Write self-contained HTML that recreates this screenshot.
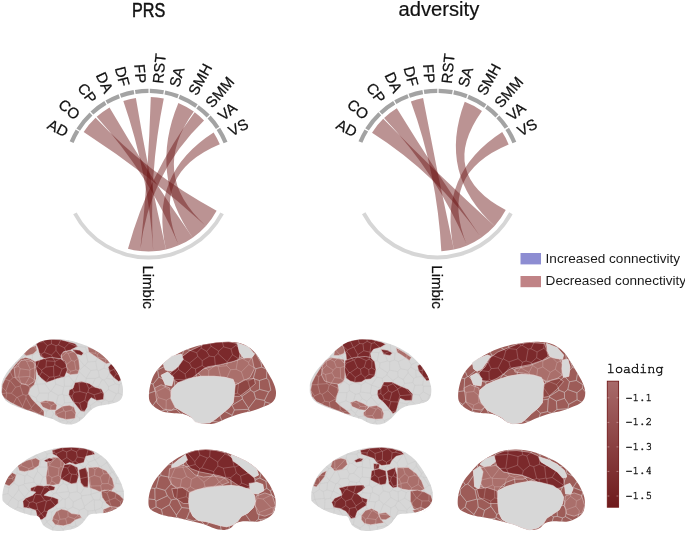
<!DOCTYPE html>
<html><head><meta charset="utf-8"><style>
html,body{margin:0;padding:0;background:#fff;}
body{width:685px;height:534px;overflow:hidden;}
svg{display:block;}
.lab{font-family:"Liberation Sans",Arial,sans-serif;font-size:15px;fill:#111;stroke:#111;stroke-width:0.25px;}
.title{font-family:"Liberation Sans",Arial,sans-serif;font-size:19.5px;fill:#111;stroke:#111;stroke-width:0.5px;}
.leg{font-family:"Liberation Sans",Arial,sans-serif;font-size:13.6px;fill:#1a1a1a;}
.loading{font-family:"TeX Gyre Cursor","FreeMono","Liberation Mono",monospace;font-size:13.5px;fill:#111;stroke:#111;stroke-width:0.45px;}
.tick{font-family:"TeX Gyre Cursor","FreeMono","Liberation Mono",monospace;font-size:11px;fill:#111;stroke:#111;stroke-width:0.35px;}
</style></head><body>
<svg width="685" height="534" viewBox="0 0 685 534">
<rect width="685" height="534" fill="#fff"/>
<text x="0" y="0" text-anchor="middle" class="title" transform="translate(148.6,16.6) scale(0.83,1)">PRS</text><text x="0" y="0" text-anchor="middle" class="title" style="stroke-width:0.2px" transform="translate(438.9,16.2) scale(1.035,1)">adversity</text>
<g fill="rgb(105,15,15)" fill-opacity="0.45"><path d="M83.67,132.1A77.3,77.3 0 0 1 95.58,117.85Q148.5,174.2 216.62,210.73A77.3,77.3 0 0 1 205.95,225.92Q148.5,174.2 83.67,132.1Z"/><path d="M178.39,102.91A77.3,77.3 0 0 1 193.83,111.58Q148.5,174.2 205.95,225.92A77.3,77.3 0 0 1 192.67,237.64Q148.5,174.2 178.39,102.91Z"/><path d="M96.68,116.85A77.3,77.3 0 0 1 109.5,107.46Q148.5,174.2 192.67,237.64A77.3,77.3 0 0 1 178.77,245.33Q148.5,174.2 96.68,116.85Z"/><path d="M213.59,132.5A77.3,77.3 0 0 1 219.81,144.37Q148.5,174.2 178.77,245.33A77.3,77.3 0 0 1 166.02,249.49Q148.5,174.2 213.59,132.5Z"/><path d="M123.33,101.11A77.3,77.3 0 0 1 135.87,97.94Q148.5,174.2 166.02,249.49A77.3,77.3 0 0 1 153.22,251.36Q148.5,174.2 123.33,101.11Z"/><path d="M150.79,96.93A77.3,77.3 0 0 1 163.78,98.43Q148.5,174.2 153.22,251.36A77.3,77.3 0 0 1 140.15,251.05Q148.5,174.2 150.79,96.93Z"/><path d="M194.7,112.22A77.3,77.3 0 0 1 204.01,120.41Q148.5,174.2 140.15,251.05A77.3,77.3 0 0 1 127.97,248.72Q148.5,174.2 194.7,112.22Z"/></g><g fill="#a3a3a3"><path d="M69.69,141.31A85.4,85.4 0 0 1 75.72,129.52L79.3,131.71A81.2,81.2 0 0 0 73.56,142.93Z"/><path d="M76.43,128.38A85.4,85.4 0 0 1 89.55,112.41L92.45,115.45A81.2,81.2 0 0 0 79.98,130.63Z"/><path d="M90.53,111.49A85.4,85.4 0 0 1 104.32,101.11L106.5,104.71A81.2,81.2 0 0 0 93.38,114.57Z"/><path d="M105.48,100.43A85.4,85.4 0 0 1 118.52,94.23L120,98.17A81.2,81.2 0 0 0 107.59,104.06Z"/><path d="M119.78,93.77A85.4,85.4 0 0 1 133.6,90.11L134.33,94.25A81.2,81.2 0 0 0 121.19,97.73Z"/><path d="M134.92,89.89A85.4,85.4 0 0 1 148.5,88.8L148.5,93A81.2,81.2 0 0 0 135.59,94.03Z"/><path d="M149.84,88.81A85.4,85.4 0 0 1 163.99,90.22L163.23,94.35A81.2,81.2 0 0 0 149.78,93.01Z"/><path d="M165.31,90.47A85.4,85.4 0 0 1 178.83,94.37L177.33,98.29A81.2,81.2 0 0 0 164.48,94.59Z"/><path d="M180.08,94.85A85.4,85.4 0 0 1 197.67,104.37L195.25,107.81A81.2,81.2 0 0 0 178.52,98.75Z"/><path d="M198.76,105.15A85.4,85.4 0 0 1 209.67,114.61L206.66,117.54A81.2,81.2 0 0 0 196.29,108.55Z"/><path d="M210.6,115.58A85.4,85.4 0 0 1 219.42,126.63L215.94,128.97A81.2,81.2 0 0 0 207.55,118.46Z"/><path d="M220.16,127.75A85.4,85.4 0 0 1 227.48,141.73L223.6,143.32A81.2,81.2 0 0 0 216.64,130.03Z"/></g><path fill="#d6d6d6" d="M223.82,214.25A85.3,85.3 0 0 1 73.18,214.25L76.63,212.41A81.4,81.4 0 0 0 220.37,212.41Z"/><g class="lab"><text x="0" y="0" text-anchor="end" dominant-baseline="central" transform="translate(67.31,132.65) rotate(27.1)">AD</text><text x="0" y="0" text-anchor="end" dominant-baseline="central" transform="translate(78.03,116.31) rotate(39.4)">CO</text><text x="0" y="0" text-anchor="end" dominant-baseline="central" transform="translate(93.68,101.32) rotate(53.05)">CP</text><text x="0" y="0" text-anchor="end" dominant-baseline="central" transform="translate(109.38,91.82) rotate(64.6)">DA</text><text x="0" y="0" text-anchor="end" dominant-baseline="central" transform="translate(125.13,86.05) rotate(75.15)">DF</text><text x="0" y="0" text-anchor="end" dominant-baseline="central" transform="translate(141.23,83.29) rotate(85.43)">FP</text><text x="0" y="0" text-anchor="start" dominant-baseline="central" transform="translate(157.52,83.45) rotate(-84.32)">RST</text><text x="0" y="0" text-anchor="start" dominant-baseline="central" transform="translate(173.75,86.57) rotate(-73.92)">SA</text><text x="0" y="0" text-anchor="start" dominant-baseline="central" transform="translate(191.91,93.99) rotate(-61.58)">SMH</text><text x="0" y="0" text-anchor="start" dominant-baseline="central" transform="translate(208.21,105.27) rotate(-49.1)">SMM</text><text x="0" y="0" text-anchor="start" dominant-baseline="central" transform="translate(219.77,117.3) rotate(-38.6)">VA</text><text x="0" y="0" text-anchor="start" dominant-baseline="central" transform="translate(229.28,131.88) rotate(-27.65)">VS</text><text x="0" y="0" text-anchor="start" dominant-baseline="central" transform="translate(148.5,265.4) rotate(90)">Limbic</text></g><g fill="rgb(105,15,15)" fill-opacity="0.45"><path d="M464.75,101.84A77.3,77.3 0 0 1 481.97,111.01Q437.3,174.1 505.74,210.03A77.3,77.3 0 0 1 494.56,226.02Q437.3,174.1 464.75,101.84Z"/><path d="M372.03,132.68A77.3,77.3 0 0 1 383.22,118.87Q437.3,174.1 494.56,226.02A77.3,77.3 0 0 1 481.19,237.73Q437.3,174.1 372.03,132.68Z"/><path d="M384.09,118.03A77.3,77.3 0 0 1 396.8,108.26Q437.3,174.1 481.19,237.73A77.3,77.3 0 0 1 467.13,245.41Q437.3,174.1 384.09,118.03Z"/><path d="M502.2,132.11A77.3,77.3 0 0 1 508.66,144.39Q437.3,174.1 467.13,245.41A77.3,77.3 0 0 1 453.9,249.6Q437.3,174.1 502.2,132.11Z"/><path d="M410.86,101.46A77.3,77.3 0 0 1 423.08,98.12Q437.3,174.1 453.9,249.6A77.3,77.3 0 0 1 441.35,251.29Q437.3,174.1 410.86,101.46Z"/></g><g fill="#a3a3a3"><path d="M358.49,141.21A85.4,85.4 0 0 1 364.52,129.42L368.1,131.61A81.2,81.2 0 0 0 362.36,142.83Z"/><path d="M365.23,128.28A85.4,85.4 0 0 1 378.35,112.31L381.25,115.35A81.2,81.2 0 0 0 368.78,130.53Z"/><path d="M379.33,111.39A85.4,85.4 0 0 1 393.12,101.01L395.3,104.61A81.2,81.2 0 0 0 382.18,114.47Z"/><path d="M394.28,100.33A85.4,85.4 0 0 1 407.32,94.13L408.8,98.07A81.2,81.2 0 0 0 396.39,103.96Z"/><path d="M408.58,93.67A85.4,85.4 0 0 1 422.4,90.01L423.13,94.15A81.2,81.2 0 0 0 409.99,97.63Z"/><path d="M423.72,89.79A85.4,85.4 0 0 1 437.3,88.7L437.3,92.9A81.2,81.2 0 0 0 424.39,93.93Z"/><path d="M438.64,88.71A85.4,85.4 0 0 1 452.79,90.12L452.03,94.25A81.2,81.2 0 0 0 438.58,92.91Z"/><path d="M454.11,90.37A85.4,85.4 0 0 1 467.63,94.27L466.13,98.19A81.2,81.2 0 0 0 453.28,94.49Z"/><path d="M468.88,94.75A85.4,85.4 0 0 1 486.47,104.27L484.05,107.71A81.2,81.2 0 0 0 467.32,98.65Z"/><path d="M487.56,105.05A85.4,85.4 0 0 1 498.47,114.51L495.46,117.44A81.2,81.2 0 0 0 485.09,108.45Z"/><path d="M499.4,115.48A85.4,85.4 0 0 1 508.22,126.53L504.74,128.87A81.2,81.2 0 0 0 496.35,118.36Z"/><path d="M508.96,127.65A85.4,85.4 0 0 1 516.28,141.63L512.4,143.22A81.2,81.2 0 0 0 505.44,129.93Z"/></g><path fill="#d6d6d6" d="M512.62,214.15A85.3,85.3 0 0 1 361.98,214.15L365.43,212.31A81.4,81.4 0 0 0 509.17,212.31Z"/><g class="lab"><text x="0" y="0" text-anchor="end" dominant-baseline="central" transform="translate(356.11,132.55) rotate(27.1)">AD</text><text x="0" y="0" text-anchor="end" dominant-baseline="central" transform="translate(366.83,116.21) rotate(39.4)">CO</text><text x="0" y="0" text-anchor="end" dominant-baseline="central" transform="translate(382.48,101.22) rotate(53.05)">CP</text><text x="0" y="0" text-anchor="end" dominant-baseline="central" transform="translate(398.18,91.72) rotate(64.6)">DA</text><text x="0" y="0" text-anchor="end" dominant-baseline="central" transform="translate(413.93,85.95) rotate(75.15)">DF</text><text x="0" y="0" text-anchor="end" dominant-baseline="central" transform="translate(430.03,83.19) rotate(85.43)">FP</text><text x="0" y="0" text-anchor="start" dominant-baseline="central" transform="translate(446.32,83.35) rotate(-84.32)">RST</text><text x="0" y="0" text-anchor="start" dominant-baseline="central" transform="translate(462.55,86.47) rotate(-73.92)">SA</text><text x="0" y="0" text-anchor="start" dominant-baseline="central" transform="translate(480.71,93.89) rotate(-61.58)">SMH</text><text x="0" y="0" text-anchor="start" dominant-baseline="central" transform="translate(497.01,105.17) rotate(-49.1)">SMM</text><text x="0" y="0" text-anchor="start" dominant-baseline="central" transform="translate(508.57,117.2) rotate(-38.6)">VA</text><text x="0" y="0" text-anchor="start" dominant-baseline="central" transform="translate(518.08,131.78) rotate(-27.65)">VS</text><text x="0" y="0" text-anchor="start" dominant-baseline="central" transform="translate(437.3,265.3) rotate(90)">Limbic</text></g>
<rect x="520.5" y="253" width="20.5" height="11.4" fill="#8d8dd2"/><rect x="520.5" y="276" width="20.5" height="11.2" fill="#c08386"/><text x="545.6" y="263.1" class="leg">Increased connectivity</text><text x="545.6" y="285.2" class="leg">Decreased connectivity</text>
<g transform="translate(0,335) scale(0.18978)"><clipPath id="c0"><path d="M8,282C8,272 7.2,261 10,250C12.8,239 18.5,227.5 25,216C31.5,204.5 40,192.7 49,181C58,169.3 69.2,156.7 79,146C88.8,135.3 98.2,126.8 108,117C117.8,107.2 128,96.2 138,87C148,77.8 158,69.5 168,62C178,54.5 186.5,47.7 198,42C209.5,36.3 223.8,31.3 237,28C250.2,24.7 263.2,23 277,22C290.8,21 302.8,20.3 320,22C337.2,23.7 361.7,27.7 380,32C398.3,36.3 413.3,42 430,48C446.7,54 464.2,60.2 480,68C495.8,75.8 510.8,84.7 525,95C539.2,105.3 552.5,117.5 565,130C577.5,142.5 589.5,155.8 600,170C610.5,184.2 620.5,199.2 628,215C635.5,230.8 641.7,250.8 645,265C648.3,279.2 648.8,288.3 648,300C647.2,311.7 645.5,325.8 640,335C634.5,344.2 625.8,350 615,355C604.2,360 589.2,362.2 575,365C560.8,367.8 543.3,368.7 530,372C516.7,375.3 505,379.5 495,385C485,390.5 477.5,398.3 470,405C462.5,411.7 456.7,418.3 450,425C443.3,431.7 438.3,438.3 430,445C421.7,451.7 410.8,460.5 400,465C389.2,469.5 376.7,471.5 365,472C353.3,472.5 340.8,470.8 330,468C319.2,465.2 308.8,459.2 300,455C291.2,450.8 289,447.5 277,443C265,438.5 244.5,433.8 228,428C211.5,422.2 196.2,414.5 178,408C159.8,401.5 137.2,395.5 119,389C100.8,382.5 83.8,376.3 69,369C54.2,361.7 39.8,354.8 30,345C20.2,335.2 13.7,320.5 10,310C6.3,299.5 8,292 8,282Z"/></clipPath><path d="M8,282C8,272 7.2,261 10,250C12.8,239 18.5,227.5 25,216C31.5,204.5 40,192.7 49,181C58,169.3 69.2,156.7 79,146C88.8,135.3 98.2,126.8 108,117C117.8,107.2 128,96.2 138,87C148,77.8 158,69.5 168,62C178,54.5 186.5,47.7 198,42C209.5,36.3 223.8,31.3 237,28C250.2,24.7 263.2,23 277,22C290.8,21 302.8,20.3 320,22C337.2,23.7 361.7,27.7 380,32C398.3,36.3 413.3,42 430,48C446.7,54 464.2,60.2 480,68C495.8,75.8 510.8,84.7 525,95C539.2,105.3 552.5,117.5 565,130C577.5,142.5 589.5,155.8 600,170C610.5,184.2 620.5,199.2 628,215C635.5,230.8 641.7,250.8 645,265C648.3,279.2 648.8,288.3 648,300C647.2,311.7 645.5,325.8 640,335C634.5,344.2 625.8,350 615,355C604.2,360 589.2,362.2 575,365C560.8,367.8 543.3,368.7 530,372C516.7,375.3 505,379.5 495,385C485,390.5 477.5,398.3 470,405C462.5,411.7 456.7,418.3 450,425C443.3,431.7 438.3,438.3 430,445C421.7,451.7 410.8,460.5 400,465C389.2,469.5 376.7,471.5 365,472C353.3,472.5 340.8,470.8 330,468C319.2,465.2 308.8,459.2 300,455C291.2,450.8 289,447.5 277,443C265,438.5 244.5,433.8 228,428C211.5,422.2 196.2,414.5 178,408C159.8,401.5 137.2,395.5 119,389C100.8,382.5 83.8,376.3 69,369C54.2,361.7 39.8,354.8 30,345C20.2,335.2 13.7,320.5 10,310C6.3,299.5 8,292 8,282Z" fill="#d7d7d7"/><path clip-path="url(#c0)" d="M674 466L631 437M659 394L631 437M632 489L674 466M646 83L705 132M646 83L628 102M628 102L623 115M623 115L660 142M646 83L647 68M647 68L694 36M647 68L607 43M662 14L617 21M607 43L617 21M660 142L642 165M642 165L666 202M666 202L644 221M644 221L644 250M619 378L659 394M619 378L616 371M616 371L653 333M653 333L648 317M7 178L-194 161M7 178L7 126M7 126L-194 161M632 489L603 482M631 437L624 438M624 438L603 482M623 115L596 132M642 165L606 170M596 132L606 170M613 204L601 182M613 204L595 233M595 233L561 229M561 229L585 187M585 187L601 182M613 204L644 221M601 182L606 170M662 14L631 -91M617 21L606 -15M606 -15L631 -91M614 310L623 306M614 310L571 288M623 306L628 262M571 288L572 272M572 272L608 257M628 262L608 257M616 371L592 349M592 349L614 310M648 317L623 306M644 250L628 262M595 233L608 257M548 237L561 229M548 237L572 272M121 314L106 269M121 314L137 318M106 269L113 259M113 259L133 259M137 318L149 313M149 313L158 276M158 276L133 259M7 126L17 101M-16 82L17 101M237 257L266 297M237 257L260 222M269 296L266 297M269 296L294 259M286 221L294 259M286 221L284 220M284 220L260 222M592 349L574 350M574 350L554 342M571 288L548 310M554 342L548 310M307 318L269 296M307 318L328 312M294 259L336 274M328 312L336 274M619 378L599 408M574 350L571 388M571 388L599 408M624 438L598 417M599 408L598 417M-6 394L-27 372M-6 394L17 388M17 388L24 349M24 349L-12 349M-27 372L-12 349M-14 428L-6 394M-18 315L-61 292M-18 315L-12 349M-14 428L25 447M43 400L17 388M43 400L40 427M25 447L40 427M31 294L1 267M31 294L50 241M1 267L6 230M50 241L9 227M9 227L6 230M-18 315L35 305M35 305L31 294M9 180L9 227M9 180L7 178M603 482L591 487M598 417L566 437M566 437L587 484M591 487L587 484M591 487L2563 158210M197 259L207 306M197 259L195 258M149 313L191 330M195 258L158 276M191 330L207 306M197 259L237 257M266 297L256 306M207 306L256 306M121 314L92 328M137 318L137 332M92 328L119 377M137 332L119 377M607 43L592 50M606 -15L574 -2M574 -2L569 44M592 50L569 44M628 102L593 74M592 50L593 74M195 258L191 243M133 259L157 219M157 219L191 243M260 222L221 194M191 243L221 194M286 221L313 215M336 274L340 270M340 270L338 225M313 215L338 225M392 138L400 184M392 138L413 124M417 189L444 161M417 189L400 184M413 124L444 161M454 228L479 187M454 228L419 195M419 195L417 189M479 187L447 161M447 161L444 161M512 183L479 187M512 183L504 139M447 161L463 142M504 139L463 142M507 47L505 97M507 47L468 32M450 65L468 32M450 65L458 91M505 97L458 91M415 115L454 97M415 115L413 124M463 142L454 97M-16 82L-13 48M-13 48L11 39M-5 -7L28 -6M11 39L28 -6M62 24L36 -9M62 24L101 -2M36 -9L83 -124M101 -2L83 -124M36 -9L28 -6M301 -11L379 -724M301 -11L271 -2M255 -13L271 -2M255 -13L1222 -46122M348 2L329 6M329 6L301 -11M203 -14L159 -93M203 -14L226 -5M226 -5L255 -13M495 315L534 303M495 315L508 349M554 342L536 355M548 310L534 303M508 349L536 355M495 315L463 302M463 302L456 307M456 307L447 344M447 344L475 372M508 349L475 372M447 344L420 358M420 358L429 395M429 395L447 400M447 400L477 387M475 372L477 387M416 252L421 298M416 252L395 247M395 247L389 248M389 248L376 270M376 270L390 302M421 298L390 302M463 302L468 282M456 307L421 298M451 245L468 282M451 245L416 252M454 228L455 229M419 195L395 247M455 229L451 245M372 191L363 215M372 191L400 184M363 215L389 248M340 270L376 270M363 215L338 225M328 312L336 317M390 302L380 322M336 317L380 322M88 328L67 368M88 328L60 307M67 368L30 344M30 344L35 306M35 306L60 307M94 397L120 394M94 397L70 386M70 386L67 368M92 328L88 328M119 377L120 394M82 275L106 269M82 275L60 307M43 400L70 386M24 349L30 344M35 305L35 306M53 240L82 275M53 240L50 241M28 460L63 479M28 460L-5 499M63 479L22 562M-5 499L22 562M25 447L28 460M94 397L81 439M40 427L81 440M81 439L81 440M63 479L73 477M81 440L73 477M191 330L195 348M252 355L256 306M252 355L211 356M211 356L195 348M137 332L166 382M195 348L166 382M307 318L296 360M252 355L269 372M269 372L296 360M530 13L549 -14M530 13L487 -18M549 -14L522 -156M487 -18L522 -156M533 35L555 46M533 35L530 13M574 -2L549 -14M569 44L555 46M507 47L533 35M462 10L468 32M462 10L487 -18M439 3L462 10M575 122L559 128M575 122L575 108M575 108L549 75M559 128L516 118M549 75L511 103M516 118L511 103M596 132L575 122M548 175L585 187M548 175L559 128M593 74L575 108M555 46L549 75M518 189L548 175M518 189L512 183M504 139L516 118M505 97L511 103M458 91L454 97M356 8L364 43M356 8L400 6M364 43L402 59M400 6L410 11M410 11L402 59M402 59L402 59M348 2L356 8M439 3L410 11M450 65L402 59M393 85L402 59M393 85L415 115M101 -2L123 19M123 19L143 10M203 -14L176 31M143 10L176 31M226 -5L228 35M228 35L179 43M176 31L179 43M9 180L35 176M53 240L68 225M68 225L48 181M48 181L35 176M62 24L65 39M11 39L38 55M65 39L38 55M17 101L22 100M38 55L22 100M548 403L555 433M548 403L530 388M530 388L492 406M555 433L513 453M513 453L492 432M492 406L492 432M571 388L548 403M566 437L555 433M536 355L530 388M477 387L492 406M519 270L482 275M519 270L538 235M482 275L502 229M538 235L524 221M524 221L502 229M534 303L519 270M468 282L482 275M548 237L538 235M455 229L502 229M518 189L524 221M392 356L378 396M392 356L390 354M390 354L340 358M378 396L345 404M345 404L337 399M337 399L327 373M340 358L327 373M420 358L392 356M404 424L378 396M404 424L429 395M380 322L390 354M336 317L340 358M296 360L327 373M587 484L543 492M543 492L445 826M513 453L514 463M543 492L514 463M419 437L419 475M419 437L445 438M445 438L458 444M458 444L452 488M419 475L452 488M405 428L371 461M405 428L419 437M387 493L371 461M387 493L419 475M404 424L405 428M447 400L445 438M492 432L458 444M110 476L78 480M110 476L142 503M78 480L119 582M142 503L119 582M81 439L121 448M121 448L110 476M73 477L78 480M281 475L249 486M281 475L291 477M345 447L317 454M345 447L357 457M357 457L336 492M336 492L303 471M317 454L303 471M296 417L337 399M296 417L317 454M345 404L345 447M371 461L357 457M387 493L373 653M291 477L303 471M142 503L165 483M165 483L182 487M249 486L224 461M182 487L224 461M138 402L162 391M138 402L140 433M162 391L202 416M140 433L159 454M159 454L204 430M202 416L204 430M120 394L138 402M166 382L162 391M121 448L140 433M211 356L219 401M219 401L202 416M165 483L159 454M224 455L224 461M224 455L204 430M274 433L238 442M274 433L283 414M238 442L247 400M283 414L267 390M247 400L267 390M281 475L274 433M224 455L238 442M296 417L283 414M219 401L247 400M269 372L267 390M157 218L158 185M157 218L99 222M158 185L106 178M106 178L98 221M98 221L99 222M113 259L99 222M157 219L157 218M68 225L98 221M48 181L98 165M98 165L106 178M195 167L160 182M195 167L170 138M160 182L140 138M170 138L140 138M118 119L99 154M118 119L140 138M98 165L99 154M158 185L160 182M329 6L308 52M364 43L340 68M340 68L308 52M48 144L70 140M48 144L30 102M70 140L62 100M30 102L62 100M35 176L48 144M99 154L70 140M22 100L30 102M453 490L510 468M453 490L459 627M514 463L510 468M452 488L453 490M393 85L359 97M340 68L349 94M359 97L349 94M392 138L376 135M359 97L376 135M295 56L295 81M295 56L271 47M295 81L271 106M271 47L250 56M250 56L233 91M233 91L271 106M308 52L295 56M349 94L323 117M323 117L295 81M271 -2L271 47M228 35L250 56M179 43L177 53M217 101L233 91M217 101L197 92M177 53L197 92M376 135L350 156M323 117L320 124M320 124L350 156M372 191L350 169M313 215L327 179M327 179L350 169M350 169L350 156M195 167L196 167M170 138L171 106M217 101L218 105M171 106L197 92M218 105L196 167M221 194L219 185M196 167L219 185M118 118L81 92M118 118L129 108M129 108L137 66M81 92L84 53M137 66L112 44M112 44L84 53M118 119L118 118M62 100L81 92M171 106L129 108M177 53L137 66M65 39L84 53M123 19L112 44M242 169L245 136M242 169L282 165M245 136L289 139M282 165L288 156M288 156L290 139M289 139L290 139M218 105L245 136M219 185L242 169M284 220L282 165M271 106L289 139M327 179L288 156M320 124L290 139" fill="none" stroke="#c8c8c8" stroke-width="2.90" stroke-opacity="0.8"/><g clip-path="url(#c0)" stroke="#e6d6d6" stroke-width="2.63" stroke-linejoin="round"><path d="M8,300 12,262 28,228 55,190 85,150 110,125 135,118 160,125 185,140 192,180 190,230 180,262 160,280 150,310 170,340 200,370 232,400 232,428 185,410 140,395 95,375 55,355 25,335 10,315Z" fill="#9d5c58"/><path d="M125,100 150,70 190,55 195,80 175,100 140,110Z" fill="#aa6f6b"/><path d="M75,175 110,135 150,128 180,145 185,200 180,245 150,265 110,255 80,225Z" fill="#aa6f6b"/><path d="M320,95 370,80 400,95 415,130 420,175 410,205 370,210 345,195 340,150 325,120Z" fill="#aa6f6b"/><path d="M210,355 240,345 280,350 300,370 295,395 260,395 225,380Z" fill="#aa6f6b"/><path d="M290,400 330,375 365,370 390,380 400,410 395,440 350,445 310,435 290,420Z" fill="#aa6f6b"/><path d="M462,62 500,76 535,100 565,125 578,148 560,152 530,132 495,108 468,90Z" fill="#aa6f6b"/><path d="M190,48 215,30 260,22 320,25 360,35 395,45 410,60 390,70 370,80 335,88 322,105 325,128 280,122 235,126 212,110 205,90 200,70Z" fill="#7b292b"/><path d="M380,75 420,80 440,95 430,108 400,100Z" fill="#7b292b"/><path d="M185,140 230,125 265,118 320,125 345,140 355,185 340,220 300,230 275,240 245,250 220,230 200,210 190,180Z" fill="#7b292b"/><path d="M570,170 585,152 605,165 625,200 638,238 625,245 600,225 578,200Z" fill="#7b292b"/><path d="M365,290 385,280 395,250 430,245 470,255 500,275 535,285 548,310 545,340 510,345 480,330 465,350 460,380 445,405 425,400 405,375 380,345 362,315Z" fill="#7b292b"/></g><clipPath id="c0k"><path d="M8,300 12,262 28,228 55,190 85,150 110,125 135,118 160,125 185,140 192,180 190,230 180,262 160,280 150,310 170,340 200,370 232,400 232,428 185,410 140,395 95,375 55,355 25,335 10,315Z"/><path d="M125,100 150,70 190,55 195,80 175,100 140,110Z"/><path d="M75,175 110,135 150,128 180,145 185,200 180,245 150,265 110,255 80,225Z"/><path d="M320,95 370,80 400,95 415,130 420,175 410,205 370,210 345,195 340,150 325,120Z"/><path d="M210,355 240,345 280,350 300,370 295,395 260,395 225,380Z"/><path d="M290,400 330,375 365,370 390,380 400,410 395,440 350,445 310,435 290,420Z"/><path d="M462,62 500,76 535,100 565,125 578,148 560,152 530,132 495,108 468,90Z"/><path d="M190,48 215,30 260,22 320,25 360,35 395,45 410,60 390,70 370,80 335,88 322,105 325,128 280,122 235,126 212,110 205,90 200,70Z"/><path d="M380,75 420,80 440,95 430,108 400,100Z"/><path d="M185,140 230,125 265,118 320,125 345,140 355,185 340,220 300,230 275,240 245,250 220,230 200,210 190,180Z"/><path d="M570,170 585,152 605,165 625,200 638,238 625,245 600,225 578,200Z"/><path d="M365,290 385,280 395,250 430,245 470,255 500,275 535,285 548,310 545,340 510,345 480,330 465,350 460,380 445,405 425,400 405,375 380,345 362,315Z"/></clipPath><g clip-path="url(#c0k)"><path d="M674 466L631 437M659 394L631 437M632 489L674 466M646 83L705 132M646 83L628 102M628 102L623 115M623 115L660 142M646 83L647 68M647 68L694 36M647 68L607 43M662 14L617 21M607 43L617 21M660 142L642 165M642 165L666 202M666 202L644 221M644 221L644 250M619 378L659 394M619 378L616 371M616 371L653 333M653 333L648 317M7 178L-194 161M7 178L7 126M7 126L-194 161M632 489L603 482M631 437L624 438M624 438L603 482M623 115L596 132M642 165L606 170M596 132L606 170M613 204L601 182M613 204L595 233M595 233L561 229M561 229L585 187M585 187L601 182M613 204L644 221M601 182L606 170M662 14L631 -91M617 21L606 -15M606 -15L631 -91M614 310L623 306M614 310L571 288M623 306L628 262M571 288L572 272M572 272L608 257M628 262L608 257M616 371L592 349M592 349L614 310M648 317L623 306M644 250L628 262M595 233L608 257M548 237L561 229M548 237L572 272M121 314L106 269M121 314L137 318M106 269L113 259M113 259L133 259M137 318L149 313M149 313L158 276M158 276L133 259M7 126L17 101M-16 82L17 101M237 257L266 297M237 257L260 222M269 296L266 297M269 296L294 259M286 221L294 259M286 221L284 220M284 220L260 222M592 349L574 350M574 350L554 342M571 288L548 310M554 342L548 310M307 318L269 296M307 318L328 312M294 259L336 274M328 312L336 274M619 378L599 408M574 350L571 388M571 388L599 408M624 438L598 417M599 408L598 417M-6 394L-27 372M-6 394L17 388M17 388L24 349M24 349L-12 349M-27 372L-12 349M-14 428L-6 394M-18 315L-61 292M-18 315L-12 349M-14 428L25 447M43 400L17 388M43 400L40 427M25 447L40 427M31 294L1 267M31 294L50 241M1 267L6 230M50 241L9 227M9 227L6 230M-18 315L35 305M35 305L31 294M9 180L9 227M9 180L7 178M603 482L591 487M598 417L566 437M566 437L587 484M591 487L587 484M591 487L2563 158210M197 259L207 306M197 259L195 258M149 313L191 330M195 258L158 276M191 330L207 306M197 259L237 257M266 297L256 306M207 306L256 306M121 314L92 328M137 318L137 332M92 328L119 377M137 332L119 377M607 43L592 50M606 -15L574 -2M574 -2L569 44M592 50L569 44M628 102L593 74M592 50L593 74M195 258L191 243M133 259L157 219M157 219L191 243M260 222L221 194M191 243L221 194M286 221L313 215M336 274L340 270M340 270L338 225M313 215L338 225M392 138L400 184M392 138L413 124M417 189L444 161M417 189L400 184M413 124L444 161M454 228L479 187M454 228L419 195M419 195L417 189M479 187L447 161M447 161L444 161M512 183L479 187M512 183L504 139M447 161L463 142M504 139L463 142M507 47L505 97M507 47L468 32M450 65L468 32M450 65L458 91M505 97L458 91M415 115L454 97M415 115L413 124M463 142L454 97M-16 82L-13 48M-13 48L11 39M-5 -7L28 -6M11 39L28 -6M62 24L36 -9M62 24L101 -2M36 -9L83 -124M101 -2L83 -124M36 -9L28 -6M301 -11L379 -724M301 -11L271 -2M255 -13L271 -2M255 -13L1222 -46122M348 2L329 6M329 6L301 -11M203 -14L159 -93M203 -14L226 -5M226 -5L255 -13M495 315L534 303M495 315L508 349M554 342L536 355M548 310L534 303M508 349L536 355M495 315L463 302M463 302L456 307M456 307L447 344M447 344L475 372M508 349L475 372M447 344L420 358M420 358L429 395M429 395L447 400M447 400L477 387M475 372L477 387M416 252L421 298M416 252L395 247M395 247L389 248M389 248L376 270M376 270L390 302M421 298L390 302M463 302L468 282M456 307L421 298M451 245L468 282M451 245L416 252M454 228L455 229M419 195L395 247M455 229L451 245M372 191L363 215M372 191L400 184M363 215L389 248M340 270L376 270M363 215L338 225M328 312L336 317M390 302L380 322M336 317L380 322M88 328L67 368M88 328L60 307M67 368L30 344M30 344L35 306M35 306L60 307M94 397L120 394M94 397L70 386M70 386L67 368M92 328L88 328M119 377L120 394M82 275L106 269M82 275L60 307M43 400L70 386M24 349L30 344M35 305L35 306M53 240L82 275M53 240L50 241M28 460L63 479M28 460L-5 499M63 479L22 562M-5 499L22 562M25 447L28 460M94 397L81 439M40 427L81 440M81 439L81 440M63 479L73 477M81 440L73 477M191 330L195 348M252 355L256 306M252 355L211 356M211 356L195 348M137 332L166 382M195 348L166 382M307 318L296 360M252 355L269 372M269 372L296 360M530 13L549 -14M530 13L487 -18M549 -14L522 -156M487 -18L522 -156M533 35L555 46M533 35L530 13M574 -2L549 -14M569 44L555 46M507 47L533 35M462 10L468 32M462 10L487 -18M439 3L462 10M575 122L559 128M575 122L575 108M575 108L549 75M559 128L516 118M549 75L511 103M516 118L511 103M596 132L575 122M548 175L585 187M548 175L559 128M593 74L575 108M555 46L549 75M518 189L548 175M518 189L512 183M504 139L516 118M505 97L511 103M458 91L454 97M356 8L364 43M356 8L400 6M364 43L402 59M400 6L410 11M410 11L402 59M402 59L402 59M348 2L356 8M439 3L410 11M450 65L402 59M393 85L402 59M393 85L415 115M101 -2L123 19M123 19L143 10M203 -14L176 31M143 10L176 31M226 -5L228 35M228 35L179 43M176 31L179 43M9 180L35 176M53 240L68 225M68 225L48 181M48 181L35 176M62 24L65 39M11 39L38 55M65 39L38 55M17 101L22 100M38 55L22 100M548 403L555 433M548 403L530 388M530 388L492 406M555 433L513 453M513 453L492 432M492 406L492 432M571 388L548 403M566 437L555 433M536 355L530 388M477 387L492 406M519 270L482 275M519 270L538 235M482 275L502 229M538 235L524 221M524 221L502 229M534 303L519 270M468 282L482 275M548 237L538 235M455 229L502 229M518 189L524 221M392 356L378 396M392 356L390 354M390 354L340 358M378 396L345 404M345 404L337 399M337 399L327 373M340 358L327 373M420 358L392 356M404 424L378 396M404 424L429 395M380 322L390 354M336 317L340 358M296 360L327 373M587 484L543 492M543 492L445 826M513 453L514 463M543 492L514 463M419 437L419 475M419 437L445 438M445 438L458 444M458 444L452 488M419 475L452 488M405 428L371 461M405 428L419 437M387 493L371 461M387 493L419 475M404 424L405 428M447 400L445 438M492 432L458 444M110 476L78 480M110 476L142 503M78 480L119 582M142 503L119 582M81 439L121 448M121 448L110 476M73 477L78 480M281 475L249 486M281 475L291 477M345 447L317 454M345 447L357 457M357 457L336 492M336 492L303 471M317 454L303 471M296 417L337 399M296 417L317 454M345 404L345 447M371 461L357 457M387 493L373 653M291 477L303 471M142 503L165 483M165 483L182 487M249 486L224 461M182 487L224 461M138 402L162 391M138 402L140 433M162 391L202 416M140 433L159 454M159 454L204 430M202 416L204 430M120 394L138 402M166 382L162 391M121 448L140 433M211 356L219 401M219 401L202 416M165 483L159 454M224 455L224 461M224 455L204 430M274 433L238 442M274 433L283 414M238 442L247 400M283 414L267 390M247 400L267 390M281 475L274 433M224 455L238 442M296 417L283 414M219 401L247 400M269 372L267 390M157 218L158 185M157 218L99 222M158 185L106 178M106 178L98 221M98 221L99 222M113 259L99 222M157 219L157 218M68 225L98 221M48 181L98 165M98 165L106 178M195 167L160 182M195 167L170 138M160 182L140 138M170 138L140 138M118 119L99 154M118 119L140 138M98 165L99 154M158 185L160 182M329 6L308 52M364 43L340 68M340 68L308 52M48 144L70 140M48 144L30 102M70 140L62 100M30 102L62 100M35 176L48 144M99 154L70 140M22 100L30 102M453 490L510 468M453 490L459 627M514 463L510 468M452 488L453 490M393 85L359 97M340 68L349 94M359 97L349 94M392 138L376 135M359 97L376 135M295 56L295 81M295 56L271 47M295 81L271 106M271 47L250 56M250 56L233 91M233 91L271 106M308 52L295 56M349 94L323 117M323 117L295 81M271 -2L271 47M228 35L250 56M179 43L177 53M217 101L233 91M217 101L197 92M177 53L197 92M376 135L350 156M323 117L320 124M320 124L350 156M372 191L350 169M313 215L327 179M327 179L350 169M350 169L350 156M195 167L196 167M170 138L171 106M217 101L218 105M171 106L197 92M218 105L196 167M221 194L219 185M196 167L219 185M118 118L81 92M118 118L129 108M129 108L137 66M81 92L84 53M137 66L112 44M112 44L84 53M118 119L118 118M62 100L81 92M171 106L129 108M177 53L137 66M65 39L84 53M123 19L112 44M242 169L245 136M242 169L282 165M245 136L289 139M282 165L288 156M288 156L290 139M289 139L290 139M218 105L245 136M219 185L242 169M284 220L282 165M271 106L289 139M327 179L288 156M320 124L290 139" fill="none" stroke="#eedede" stroke-width="2.90" stroke-opacity="0.45"/></g></g><g transform="translate(140,335) scale(0.21168)"><clipPath id="c1"><path d="M42,290C41.7,276.7 44.2,256.7 48,240C51.8,223.3 57.2,205 65,190C72.8,175 83.3,162.5 95,150C106.7,137.5 120,125.8 135,115C150,104.2 167.5,93.8 185,85C202.5,76.2 220.8,68.7 240,62C259.2,55.3 280,49.5 300,45C320,40.5 340,37.2 360,35C380,32.8 401.7,31.5 420,32C438.3,32.5 455,34.2 470,38C485,41.8 497.5,47.2 510,55C522.5,62.8 534.2,72.5 545,85C555.8,97.5 565,114.2 575,130C585,145.8 595.8,164.2 605,180C614.2,195.8 623.8,210.8 630,225C636.2,239.2 640.7,252.5 642,265C643.3,277.5 642.5,290 638,300C633.5,310 624.7,318.3 615,325C605.3,331.7 592.5,335 580,340C567.5,345 553.3,350.8 540,355C526.7,359.2 513.3,361.7 500,365C486.7,368.3 473.3,370.8 460,375C446.7,379.2 432.5,385 420,390C407.5,395 396.7,400.3 385,405C373.3,409.7 362.5,415.5 350,418C337.5,420.5 322.5,421 310,420C297.5,419 285,416.2 275,412C265,407.8 258.3,400.3 250,395C241.7,389.7 234.2,383.8 225,380C215.8,376.2 207.5,374 195,372C182.5,370 164.2,369.7 150,368C135.8,366.3 122.5,365.8 110,362C97.5,358.2 85,352 75,345C65,338 55.5,329.2 50,320C44.5,310.8 42.3,303.3 42,290Z"/></clipPath><path d="M42,290C41.7,276.7 44.2,256.7 48,240C51.8,223.3 57.2,205 65,190C72.8,175 83.3,162.5 95,150C106.7,137.5 120,125.8 135,115C150,104.2 167.5,93.8 185,85C202.5,76.2 220.8,68.7 240,62C259.2,55.3 280,49.5 300,45C320,40.5 340,37.2 360,35C380,32.8 401.7,31.5 420,32C438.3,32.5 455,34.2 470,38C485,41.8 497.5,47.2 510,55C522.5,62.8 534.2,72.5 545,85C555.8,97.5 565,114.2 575,130C585,145.8 595.8,164.2 605,180C614.2,195.8 623.8,210.8 630,225C636.2,239.2 640.7,252.5 642,265C643.3,277.5 642.5,290 638,300C633.5,310 624.7,318.3 615,325C605.3,331.7 592.5,335 580,340C567.5,345 553.3,350.8 540,355C526.7,359.2 513.3,361.7 500,365C486.7,368.3 473.3,370.8 460,375C446.7,379.2 432.5,385 420,390C407.5,395 396.7,400.3 385,405C373.3,409.7 362.5,415.5 350,418C337.5,420.5 322.5,421 310,420C297.5,419 285,416.2 275,412C265,407.8 258.3,400.3 250,395C241.7,389.7 234.2,383.8 225,380C215.8,376.2 207.5,374 195,372C182.5,370 164.2,369.7 150,368C135.8,366.3 122.5,365.8 110,362C97.5,358.2 85,352 75,345C65,338 55.5,329.2 50,320C44.5,310.8 42.3,303.3 42,290Z" fill="#9d5c58"/><path clip-path="url(#c1)" d="M147 16L125 23M125 23L77 1M24 32L63 28M77 1L63 28M635 34L592 14M220 67L207 73M220 67L242 14M207 73L161 33M242 14L214 -2M214 -2L156 23M161 33L156 23M147 16L156 23M125 23L95 68M133 92L95 68M133 92L161 33M255 9L335 -246M255 9L242 14M81 68L85 70M81 68L27 86M85 70L85 103M85 103L67 126M67 126L27 103M27 86L27 103M63 28L81 68M95 68L85 70M81 164L22 171M81 164L67 126M160 209L167 257M160 209L218 212M167 257L215 253M218 212L215 253M267 204L219 211M267 204L262 160M262 160L244 153M244 153L213 184M219 211L213 184M181 118L182 163M181 118L144 114M144 114L125 131M154 189L114 150M154 189L182 163M114 150L125 131M194 110L234 133M194 110L181 118M234 133L244 153M213 184L182 163M133 92L144 114M194 110L207 73M85 103L125 131M153 201L119 215M153 201L154 189M83 165L89 199M83 165L114 150M119 215L89 199M153 201L160 209M218 212L219 211M83 165L81 164M325 167L356 144M325 167L324 201M324 201L350 224M369 149L356 144M369 149L384 211M384 211L350 224M281 214L324 201M281 214L267 204M294 144L262 160M294 144L325 167M281 214L273 260M273 260L297 275M350 224L348 246M348 246L297 275M56 340L27 323M56 340L59 348M27 323L-51 345M59 348L15 381M21 400L15 381M62 232L72 265M62 232L19 216M72 265L26 281M26 281L-21 249M22 171L19 216M89 199L62 232M27 323L26 281M87 296L77 268M87 296L124 308M77 268L119 247M119 247L155 270M124 308L152 293M155 270L152 293M56 340L87 296M72 265L77 268M119 215L119 247M167 257L155 270M513 346L484 302M513 346L513 351M484 302L435 332M435 332L446 354M513 351L446 354M406 211L428 164M406 211L384 211M369 149L410 145M428 164L410 145M453 49L430 66M453 49L467 21M467 21L416 -1M430 66L395 56M416 -1L388 28M395 56L388 28M474 16L394 -835M474 16L467 21M367 13L340 -100M367 13L388 28M592 14L580 21M580 21L540 -8M474 16L507 21M522 261L482 290M522 261L510 217M482 290L460 275M466 228L460 275M466 228L491 210M510 217L491 210M635 34L628 65M573 65L580 21M573 65L576 67M628 65L576 67M628 65L655 95M234 133L273 101M294 144L294 121M294 121L273 101M220 67L268 84M268 84L273 101M54 424L21 400M519 438L534 415M519 438L561 937M534 415L582 427M455 420L454 418M455 420L519 438M530 368L534 415M530 368L515 356M515 356L454 418M455 420L346 856M513 346L547 301M522 261L538 270M482 290L484 302M547 301L538 270M530 368L579 361M515 356L513 351M591 316L579 361M591 316L588 309M547 301L588 309M364 275L355 305M364 275L414 276M414 276L421 283M421 283L418 319M409 324L359 312M409 324L418 319M359 312L355 305M348 246L364 275M304 308L297 275M304 308L355 305M406 211L414 220M414 220L414 276M466 228L414 220M460 275L421 283M435 332L418 319M446 354L435 379M454 418L435 402M435 379L435 402M409 324L392 357M435 379L392 357M428 164L454 162M412 127L410 145M412 127L437 93M437 93L463 110M454 162L463 110M491 210L479 174M454 162L479 174M124 419L75 404M124 419L141 414M141 414L129 359M75 365L75 404M75 365L123 354M123 354L129 359M54 424L75 404M59 348L75 365M124 308L123 354M141 414L150 417M356 144L352 103M294 121L328 100M328 100L352 103M412 127L368 87M352 103L368 87M437 93L430 66M395 56L372 76M372 76L368 87M596 373L638 360M596 373L601 415M635 428L601 415M635 428L663 380M663 380L638 360M591 316L639 330M579 361L596 373M639 330L638 360M582 427L601 415M387 414L329 406M387 414L389 412M389 412L372 367M372 367L353 359M353 359L329 368M329 368L326 400M326 400L329 406M435 402L389 412M392 357L372 367M359 312L353 359M304 308L286 343M286 343L286 343M286 343L329 368M267 415L326 400M267 415L324 566M510 217L535 206M538 270L565 257M535 206L564 215M564 215L565 257M588 309L608 268M565 257L608 268M618 261L608 268M535 206L548 159M479 174L514 139M548 159L514 139M576 67L598 103M655 95L622 117M598 103L622 117M286 343L267 364M267 415L261 409M261 409L267 364M261 409L218 417M150 417L193 396M218 417L193 396M273 260L243 270M286 343L247 311M247 311L243 270M215 253L224 262M243 270L224 262M289 62L315 77M289 62L293 31M315 77L336 53M293 31L309 25M309 25L326 30M326 30L336 53M268 84L289 62M328 100L315 77M255 9L293 31M372 76L336 53M367 13L326 30M477 107L513 129M477 107L490 77M513 129L544 82M490 77L527 67M527 67L545 79M545 79L544 82M463 110L477 107M514 139L513 129M453 49L490 77M548 159L575 152M572 131L575 152M572 131L544 82M507 21L527 67M573 65L545 79M598 103L572 131M610 155L599 162M610 155L720 182M599 162L598 204M608 214L598 204M622 117L610 155M575 152L599 162M564 215L598 204M618 261L608 214M195 375L217 357M195 375L171 351M217 357L217 325M171 351L175 312M217 325L195 310M175 312L195 310M267 364L217 357M193 396L195 375M129 359L171 351M247 311L217 325M152 293L175 312M224 262L195 310" fill="none" stroke="#c8c8c8" stroke-width="2.60" stroke-opacity="0.8"/><g clip-path="url(#c1)" stroke="#e6d6d6" stroke-width="2.36" stroke-linejoin="round"><path d="M150,255 180,225 230,205 290,195 350,195 400,200 440,210 450,240 445,280 440,320 420,345 390,370 360,395 330,415 290,418 260,410 240,385 205,365 165,340 145,300Z" fill="#d7d7d7"/><path d="M110,135 150,100 195,90 205,115 180,150 150,170 120,165Z" fill="#d7d7d7"/><path d="M100,190 130,175 160,200 150,240 120,235Z" fill="#d7d7d7"/><path d="M460,38 510,55 540,90 530,105 490,110 470,80Z" fill="#d7d7d7"/><path d="M270,175 300,160 380,140 440,125 500,105 530,110 540,160 520,200 480,225 450,235 440,210 400,200 350,195 290,195Z" fill="#aa6f6b"/><path d="M445,240 500,210 540,205 545,230 510,260 470,290 445,290Z" fill="#8e4643"/><path d="M70,250 100,235 140,250 150,300 175,335 150,355 110,350 80,320Z" fill="#aa6f6b"/><path d="M140,180 170,160 195,105 235,75 300,45 360,35 420,32 460,40 472,90 468,115 440,125 380,140 320,150 300,160 275,180 250,200 215,218 180,225 150,205Z" fill="#7b292b"/></g><g clip-path="url(#c1)"><path d="M147 16L125 23M125 23L77 1M24 32L63 28M77 1L63 28M635 34L592 14M220 67L207 73M220 67L242 14M207 73L161 33M242 14L214 -2M214 -2L156 23M161 33L156 23M147 16L156 23M125 23L95 68M133 92L95 68M133 92L161 33M255 9L335 -246M255 9L242 14M81 68L85 70M81 68L27 86M85 70L85 103M85 103L67 126M67 126L27 103M27 86L27 103M63 28L81 68M95 68L85 70M81 164L22 171M81 164L67 126M160 209L167 257M160 209L218 212M167 257L215 253M218 212L215 253M267 204L219 211M267 204L262 160M262 160L244 153M244 153L213 184M219 211L213 184M181 118L182 163M181 118L144 114M144 114L125 131M154 189L114 150M154 189L182 163M114 150L125 131M194 110L234 133M194 110L181 118M234 133L244 153M213 184L182 163M133 92L144 114M194 110L207 73M85 103L125 131M153 201L119 215M153 201L154 189M83 165L89 199M83 165L114 150M119 215L89 199M153 201L160 209M218 212L219 211M83 165L81 164M325 167L356 144M325 167L324 201M324 201L350 224M369 149L356 144M369 149L384 211M384 211L350 224M281 214L324 201M281 214L267 204M294 144L262 160M294 144L325 167M281 214L273 260M273 260L297 275M350 224L348 246M348 246L297 275M56 340L27 323M56 340L59 348M27 323L-51 345M59 348L15 381M21 400L15 381M62 232L72 265M62 232L19 216M72 265L26 281M26 281L-21 249M22 171L19 216M89 199L62 232M27 323L26 281M87 296L77 268M87 296L124 308M77 268L119 247M119 247L155 270M124 308L152 293M155 270L152 293M56 340L87 296M72 265L77 268M119 215L119 247M167 257L155 270M513 346L484 302M513 346L513 351M484 302L435 332M435 332L446 354M513 351L446 354M406 211L428 164M406 211L384 211M369 149L410 145M428 164L410 145M453 49L430 66M453 49L467 21M467 21L416 -1M430 66L395 56M416 -1L388 28M395 56L388 28M474 16L394 -835M474 16L467 21M367 13L340 -100M367 13L388 28M592 14L580 21M580 21L540 -8M474 16L507 21M522 261L482 290M522 261L510 217M482 290L460 275M466 228L460 275M466 228L491 210M510 217L491 210M635 34L628 65M573 65L580 21M573 65L576 67M628 65L576 67M628 65L655 95M234 133L273 101M294 144L294 121M294 121L273 101M220 67L268 84M268 84L273 101M54 424L21 400M519 438L534 415M519 438L561 937M534 415L582 427M455 420L454 418M455 420L519 438M530 368L534 415M530 368L515 356M515 356L454 418M455 420L346 856M513 346L547 301M522 261L538 270M482 290L484 302M547 301L538 270M530 368L579 361M515 356L513 351M591 316L579 361M591 316L588 309M547 301L588 309M364 275L355 305M364 275L414 276M414 276L421 283M421 283L418 319M409 324L359 312M409 324L418 319M359 312L355 305M348 246L364 275M304 308L297 275M304 308L355 305M406 211L414 220M414 220L414 276M466 228L414 220M460 275L421 283M435 332L418 319M446 354L435 379M454 418L435 402M435 379L435 402M409 324L392 357M435 379L392 357M428 164L454 162M412 127L410 145M412 127L437 93M437 93L463 110M454 162L463 110M491 210L479 174M454 162L479 174M124 419L75 404M124 419L141 414M141 414L129 359M75 365L75 404M75 365L123 354M123 354L129 359M54 424L75 404M59 348L75 365M124 308L123 354M141 414L150 417M356 144L352 103M294 121L328 100M328 100L352 103M412 127L368 87M352 103L368 87M437 93L430 66M395 56L372 76M372 76L368 87M596 373L638 360M596 373L601 415M635 428L601 415M635 428L663 380M663 380L638 360M591 316L639 330M579 361L596 373M639 330L638 360M582 427L601 415M387 414L329 406M387 414L389 412M389 412L372 367M372 367L353 359M353 359L329 368M329 368L326 400M326 400L329 406M435 402L389 412M392 357L372 367M359 312L353 359M304 308L286 343M286 343L286 343M286 343L329 368M267 415L326 400M267 415L324 566M510 217L535 206M538 270L565 257M535 206L564 215M564 215L565 257M588 309L608 268M565 257L608 268M618 261L608 268M535 206L548 159M479 174L514 139M548 159L514 139M576 67L598 103M655 95L622 117M598 103L622 117M286 343L267 364M267 415L261 409M261 409L267 364M261 409L218 417M150 417L193 396M218 417L193 396M273 260L243 270M286 343L247 311M247 311L243 270M215 253L224 262M243 270L224 262M289 62L315 77M289 62L293 31M315 77L336 53M293 31L309 25M309 25L326 30M326 30L336 53M268 84L289 62M328 100L315 77M255 9L293 31M372 76L336 53M367 13L326 30M477 107L513 129M477 107L490 77M513 129L544 82M490 77L527 67M527 67L545 79M545 79L544 82M463 110L477 107M514 139L513 129M453 49L490 77M548 159L575 152M572 131L575 152M572 131L544 82M507 21L527 67M573 65L545 79M598 103L572 131M610 155L599 162M610 155L720 182M599 162L598 204M608 214L598 204M622 117L610 155M575 152L599 162M564 215L598 204M618 261L608 214M195 375L217 357M195 375L171 351M217 357L217 325M171 351L175 312M217 325L195 310M175 312L195 310M267 364L217 357M193 396L195 375M129 359L171 351M247 311L217 325M152 293L175 312M224 262L195 310" fill="none" stroke="#eedede" stroke-width="2.60" stroke-opacity="0.45"/></g><path d="M150,255 180,225 230,205 290,195 350,195 400,200 440,210 450,240 445,280 440,320 420,345 390,370 360,395 330,415 290,418 260,410 240,385 205,365 165,340 145,300Z" fill="#d7d7d7" stroke="#e6d6d6" stroke-width="2.36"/><path d="M110,135 150,100 195,90 205,115 180,150 150,170 120,165Z" fill="#d7d7d7" stroke="#e6d6d6" stroke-width="2.36"/><path d="M100,190 130,175 160,200 150,240 120,235Z" fill="#d7d7d7" stroke="#e6d6d6" stroke-width="2.36"/><path d="M460,38 510,55 540,90 530,105 490,110 470,80Z" fill="#d7d7d7" stroke="#e6d6d6" stroke-width="2.36"/></g><g transform="translate(0,440) scale(0.20438)"><clipPath id="c2"><path d="M12,290C11.2,280 12,260 15,245C18,230 23.3,214.2 30,200C36.7,185.8 45,172.5 55,160C65,147.5 77.5,135.8 90,125C102.5,114.2 115,104.2 130,95C145,85.8 162.5,77.5 180,70C197.5,62.5 216.7,55.3 235,50C253.3,44.7 270.8,40.5 290,38C309.2,35.5 330,34.7 350,35C370,35.3 391.7,36.7 410,40C428.3,43.3 445,48.3 460,55C475,61.7 487.5,70 500,80C512.5,90 524.2,101.7 535,115C545.8,128.3 555.8,145 565,160C574.2,175 583.3,190 590,205C596.7,220 602.5,235.8 605,250C607.5,264.2 607.5,278.3 605,290C602.5,301.7 597.5,311.7 590,320C582.5,328.3 571.7,334.2 560,340C548.3,345.8 533.3,351.7 520,355C506.7,358.3 493.3,358.3 480,360C466.7,361.7 450,360.8 440,365C430,369.2 426.7,377.5 420,385C413.3,392.5 408.3,402.5 400,410C391.7,417.5 381.7,425 370,430C358.3,435 343.3,437.5 330,440C316.7,442.5 303.3,445 290,445C276.7,445 262.5,444.2 250,440C237.5,435.8 223.3,427.5 215,420C206.7,412.5 204.2,402.5 200,395C195.8,387.5 196.7,379.2 190,375C183.3,370.8 171.7,372.5 160,370C148.3,367.5 133.3,364.2 120,360C106.7,355.8 92.5,350.8 80,345C67.5,339.2 55,331.7 45,325C35,318.3 25.5,310.8 20,305C14.5,299.2 12.8,300 12,290Z"/></clipPath><path d="M12,290C11.2,280 12,260 15,245C18,230 23.3,214.2 30,200C36.7,185.8 45,172.5 55,160C65,147.5 77.5,135.8 90,125C102.5,114.2 115,104.2 130,95C145,85.8 162.5,77.5 180,70C197.5,62.5 216.7,55.3 235,50C253.3,44.7 270.8,40.5 290,38C309.2,35.5 330,34.7 350,35C370,35.3 391.7,36.7 410,40C428.3,43.3 445,48.3 460,55C475,61.7 487.5,70 500,80C512.5,90 524.2,101.7 535,115C545.8,128.3 555.8,145 565,160C574.2,175 583.3,190 590,205C596.7,220 602.5,235.8 605,250C607.5,264.2 607.5,278.3 605,290C602.5,301.7 597.5,311.7 590,320C582.5,328.3 571.7,334.2 560,340C548.3,345.8 533.3,351.7 520,355C506.7,358.3 493.3,358.3 480,360C466.7,361.7 450,360.8 440,365C430,369.2 426.7,377.5 420,385C413.3,392.5 408.3,402.5 400,410C391.7,417.5 381.7,425 370,430C358.3,435 343.3,437.5 330,440C316.7,442.5 303.3,445 290,445C276.7,445 262.5,444.2 250,440C237.5,435.8 223.3,427.5 215,420C206.7,412.5 204.2,402.5 200,395C195.8,387.5 196.7,379.2 190,375C183.3,370.8 171.7,372.5 160,370C148.3,367.5 133.3,364.2 120,360C106.7,355.8 92.5,350.8 80,345C67.5,339.2 55,331.7 45,325C35,318.3 25.5,310.8 20,305C14.5,299.2 12.8,300 12,290Z" fill="#d7d7d7"/><path clip-path="url(#c2)" d="M-1 10L16 21M-1 10L-54 28M16 21L16 32M16 32L-12 67M21 102L-11 79M21 102L17 123M-11 79L-118 120M17 123L-118 120M-11 79L-12 67M603 464L631 447M327 -2L304 21M304 21L272 12M272 12L269 -111M37 15L65 -39M37 15L67 29M67 29L94 6M16 21L37 15M327 -2L347 19M347 19L381 7M304 21L308 51M347 19L349 48M349 48L326 58M308 51L326 58M553 159L571 184M553 159L581 132M581 132L592 139M592 139L615 180M615 180L571 184M584 111L1039 47M584 111L581 132M638 189L615 180M567 212L571 184M567 212L607 218M607 218L638 189M555 227L567 212M555 227L556 233M556 233L570 251M607 218L603 251M570 251L603 251M603 251L627 271M349 48L374 58M374 58L388 45M381 7L381 7M381 7L388 45M603 464L581 458M581 458L559 467M559 467L528 552M85 472L110 443M138 469L110 443M165 465L176 476M165 465L138 469M51 459L85 472M51 459L51 458M51 458L23 447M-7 462L23 447M-7 462L-36 434M64 186L24 126M64 186L83 162M24 126L84 137M83 162L84 137M234 232L253 200M234 232L261 262M253 200L291 225M291 225L272 259M261 262L272 259M62 189L64 186M62 189L69 211M119 214L122 176M119 214L115 218M83 162L122 176M115 218L91 225M69 211L91 225M90 299L121 285M90 299L64 281M121 285L121 280M121 280L92 243M64 281L92 243M115 218L143 251M143 251L121 280M91 225L92 243M230 398L202 360M230 398L253 383M202 360L216 348M253 383L253 353M216 348L253 353M62 189L15 185M24 126L18 123M18 123L0 172M15 185L0 172M17 123L18 123M0 172L-82 188M581 458L581 413M631 447L608 402M608 402L581 413M608 402L619 382M182 4L163 27M182 4L156 -85M163 27L118 9M219 14L182 4M94 6L118 10M118 10L118 9M219 14L215 53M219 14L261 23M261 23L265 61M265 61L231 68M231 68L215 53M219 14L219 14M176 62L165 50M176 62L215 53M165 50L163 27M272 12L261 23M308 51L275 67M275 67L265 61M275 67L278 83M278 83L244 119M244 119L227 86M227 86L231 68M118 10L111 59M165 50L116 63M111 59L116 63M378 83L419 90M378 83L367 102M367 102L407 132M430 117L433 109M430 117L417 132M419 90L433 109M417 132L407 132M162 131L182 139M162 131L155 99M200 98L194 132M200 98L175 71M182 139L194 132M175 71L155 99M244 119L243 126M227 86L200 98M235 133L243 126M235 133L194 132M176 62L175 71M122 87L116 63M122 87L155 99M326 58L327 86M278 83L298 104M298 104L327 86M374 58L378 83M367 102L357 108M357 108L327 86M235 133L239 174M243 126L289 138M239 174L254 184M254 184L285 173M285 173L289 138M298 104L298 130M289 138L298 130M230 398L229 402M202 360L201 360M201 360L178 379M191 423L178 379M191 423L203 426M229 402L203 426M165 465L167 432M176 476L213 449M167 432L191 423M203 426L213 449M213 449L233 462M164 190L167 206M164 190L184 153M184 153L211 182M211 182L197 216M167 206L178 217M178 217L197 216M119 214L167 206M122 176L132 170M132 170L164 190M142 140L132 170M142 140L162 131M182 139L184 153M239 174L211 182M254 184L253 200M217 230L197 216M217 230L234 232M163 249L178 217M163 249L143 251M217 230L199 268M261 262L247 293M247 293L227 299M227 299L219 296M219 296L199 268M163 249L173 266M199 268L173 266M-6 252L11 269M-6 252L9 224M11 269L39 262M9 224L10 223M10 223L44 234M44 234L39 262M-15 304L5 295M5 295L11 269M15 185L10 223M69 211L44 234M60 281L39 262M60 281L64 281M5 295L31 316M60 281L37 316M37 316L31 316M90 299L87 328M37 316L67 342M87 328L67 342M284 409L309 438M284 409L259 429M259 429L257 443M257 443L290 463M290 463L309 453M309 453L309 438M321 385L329 416M321 385L294 388M294 388L287 394M287 394L284 409M329 416L309 438M253 383L287 394M229 402L259 429M233 462L257 443M279 336L278 335M279 336L319 332M278 335L272 322M272 322L307 287M319 332L319 290M319 290L307 287M294 388L279 336M253 353L278 335M216 348L227 299M247 293L272 322M276 260L272 259M276 260L307 287M276 260L336 252M336 279L341 259M336 279L319 290M336 252L341 259M67 29L70 40M111 59L95 60M70 40L95 60M16 32L39 79M70 40L39 79M21 102L39 84M39 84L39 79M103 125L85 137M103 125L106 110M106 110L76 82M85 137L60 88M60 88L76 82M142 140L103 125M84 137L85 137M122 87L106 110M95 60L76 82M39 84L60 88M419 90L432 44M463 97L433 109M463 97L449 53M449 53L432 44M466 97L463 97M466 97L501 74M501 74L491 50M449 53L491 50M388 45L431 41M431 41L432 44M430 117L465 146M466 97L485 127M485 127L465 146M438 183L462 173M438 183L431 180M431 180L417 132M465 146L462 173M438 183L444 224M499 214L490 182M499 214L493 224M493 224L445 225M462 173L490 182M444 224L445 225M387 199L390 190M387 199L415 230M390 190L431 180M444 224L415 230M387 199L377 211M377 211L378 253M378 253L394 263M415 230L394 263M336 279L359 303M398 284L359 303M398 284L400 273M378 253L341 259M400 273L394 263M497 250L489 293M497 250L497 250M497 250L446 265M489 293L461 293M457 291L461 293M457 291L445 267M445 267L446 265M555 227L529 213M556 233L523 259M523 259L497 250M529 213L499 214M493 224L497 250M445 225L446 265M398 284L413 324M413 324L457 291M400 273L445 267M523 259L536 294M503 304L534 297M503 304L489 293M536 294L534 297M570 251L563 284M536 294L563 284M627 271L589 302M563 284L589 302M591 327L589 302M619 382L574 368M581 413L555 397M574 368L555 397M591 327L569 341M574 368L569 341M534 297L549 337M569 341L549 337M503 304L497 331M549 337L523 356M497 331L523 356M523 109L511 79M523 109L572 98M572 98L543 67M511 79L532 66M543 67L532 66M576 99L588 67M576 99L572 98M543 67L576 47M576 47L588 67M584 111L576 99M291 225L310 212M285 173L304 188M304 188L310 212M336 252L327 220M310 212L327 220M377 211L340 213M340 213L327 220M185 340L154 344M185 340L177 310M177 310L161 302M154 344L138 323M161 302L144 306M144 306L138 323M201 360L185 340M178 379L149 380M149 380L154 344M219 296L177 310M173 266L161 302M121 285L144 306M117 340L87 328M117 340L138 323M-15 304L-26 335M31 316L18 336M18 336L-26 335M137 386L130 413M137 386L120 368M120 368L81 373M81 373L84 412M84 412L112 426M112 426L130 413M167 432L130 413M149 380L137 386M117 340L120 368M67 342L64 358M64 358L81 373M51 458L59 417M110 443L112 426M59 417L84 412M476 467L429 454M421 474L429 454M376 471L421 474M329 416L354 425M309 453L329 464M354 425L329 464M376 471L375 470M375 470L329 464M329 464L329 464M359 303L356 328M413 324L412 334M412 334L389 343M389 343L356 328M321 385L333 375M319 332L332 340M333 375L332 340M332 340L356 328M407 421L380 425M407 421L416 393M416 393L380 371M372 420L380 425M372 420L364 385M364 385L380 371M428 437L429 454M428 437L407 421M375 470L380 425M354 425L372 420M333 375L364 385M389 343L380 371M381 7L408 -3M431 41L433 29M408 -3L433 29M408 -3L494 -372M523 110L496 129M523 110L549 158M496 129L507 166M507 166L540 163M549 158L540 163M501 74L511 79M485 127L496 129M523 109L523 110M553 159L549 158M490 182L507 166M529 213L540 163M576 47L574 32M604 13L574 32M340 162L350 167M340 162L331 137M356 110L331 137M356 110L379 155M350 167L374 169M379 155L374 169M304 188L340 162M340 213L350 167M298 130L331 137M357 108L356 110M407 132L379 155M390 190L374 169M47 369L21 363M47 369L43 406M21 363L-9 382M43 406L19 412M19 412L-7 401M-7 401L-9 382M64 358L47 369M18 336L21 363M59 417L43 406M23 447L19 412M559 467L533 444M555 397L555 397M533 444L555 397M523 356L519 381M555 397L519 381M460 398L479 378M460 398L429 381M479 378L465 345M429 381L430 348M430 348L463 344M463 344L465 345M428 437L461 420M461 420L460 398M416 393L429 381M497 331L465 345M519 381L513 385M513 385L479 378M412 334L430 348M461 293L463 344M433 29L464 2M464 2L501 -278M491 50L495 32M464 2L495 32M604 13L532 -119M521 442L505 419M521 442L491 471M505 419L470 426M470 426L479 466M491 471L479 466M533 444L521 442M513 385L505 419M461 420L470 426M476 467L479 466M507 26L532 -118M507 26L537 29M537 29L552 21M495 32L507 26M532 66L537 29M574 32L552 21" fill="none" stroke="#c8c8c8" stroke-width="2.69" stroke-opacity="0.8"/><g clip-path="url(#c2)" stroke="#e6d6d6" stroke-width="2.45" stroke-linejoin="round"><path d="M22,215 35,185 60,160 80,170 70,200 45,225Z" fill="#9d5c58"/><path d="M85,125 130,100 175,88 195,100 190,125 160,145 120,155 95,150Z" fill="#aa6f6b"/><path d="M230,100 260,85 300,85 315,110 310,150 300,190 290,215 260,222 228,218 225,180 232,140Z" fill="#aa6f6b"/><path d="M255,50 300,38 350,35 410,40 455,55 465,70 420,80 410,110 370,120 340,110 320,120 300,100 280,80 258,68Z" fill="#7b292b"/><path d="M215,100 240,88 262,92 250,105 225,108Z" fill="#7b292b"/><path d="M315,120 345,118 380,135 385,175 375,210 350,215 320,200 295,190 300,160Z" fill="#7b292b"/><path d="M385,145 420,135 430,160 432,200 430,232 410,230 395,210Z" fill="#7b292b"/><path d="M432,135 480,132 520,150 550,190 560,230 545,250 510,245 490,255 470,245 440,235 435,200Z" fill="#aa6f6b"/><path d="M495,250 530,245 560,255 585,270 605,290 598,320 575,330 545,330 520,310 500,280Z" fill="#9d5c58"/><path d="M505,340 540,325 575,330 565,345 530,358 505,360Z" fill="#aa6f6b"/><path d="M150,235 185,222 215,225 245,222 270,230 265,245 240,250 215,270 260,280 285,290 285,310 260,330 235,345 225,375 205,390 185,385 175,345 150,335 115,330 112,300 125,285 160,270 175,255 150,250Z" fill="#7b292b"/><path d="M260,375 275,350 300,338 330,345 350,360 390,365 400,380 370,390 345,410 310,420 270,415 255,395Z" fill="#aa6f6b"/></g><clipPath id="c2k"><path d="M22,215 35,185 60,160 80,170 70,200 45,225Z"/><path d="M85,125 130,100 175,88 195,100 190,125 160,145 120,155 95,150Z"/><path d="M230,100 260,85 300,85 315,110 310,150 300,190 290,215 260,222 228,218 225,180 232,140Z"/><path d="M255,50 300,38 350,35 410,40 455,55 465,70 420,80 410,110 370,120 340,110 320,120 300,100 280,80 258,68Z"/><path d="M215,100 240,88 262,92 250,105 225,108Z"/><path d="M315,120 345,118 380,135 385,175 375,210 350,215 320,200 295,190 300,160Z"/><path d="M385,145 420,135 430,160 432,200 430,232 410,230 395,210Z"/><path d="M432,135 480,132 520,150 550,190 560,230 545,250 510,245 490,255 470,245 440,235 435,200Z"/><path d="M495,250 530,245 560,255 585,270 605,290 598,320 575,330 545,330 520,310 500,280Z"/><path d="M505,340 540,325 575,330 565,345 530,358 505,360Z"/><path d="M150,235 185,222 215,225 245,222 270,230 265,245 240,250 215,270 260,280 285,290 285,310 260,330 235,345 225,375 205,390 185,385 175,345 150,335 115,330 112,300 125,285 160,270 175,255 150,250Z"/><path d="M260,375 275,350 300,338 330,345 350,360 390,365 400,380 370,390 345,410 310,420 270,415 255,395Z"/></clipPath><g clip-path="url(#c2k)"><path d="M-1 10L16 21M-1 10L-54 28M16 21L16 32M16 32L-12 67M21 102L-11 79M21 102L17 123M-11 79L-118 120M17 123L-118 120M-11 79L-12 67M603 464L631 447M327 -2L304 21M304 21L272 12M272 12L269 -111M37 15L65 -39M37 15L67 29M67 29L94 6M16 21L37 15M327 -2L347 19M347 19L381 7M304 21L308 51M347 19L349 48M349 48L326 58M308 51L326 58M553 159L571 184M553 159L581 132M581 132L592 139M592 139L615 180M615 180L571 184M584 111L1039 47M584 111L581 132M638 189L615 180M567 212L571 184M567 212L607 218M607 218L638 189M555 227L567 212M555 227L556 233M556 233L570 251M607 218L603 251M570 251L603 251M603 251L627 271M349 48L374 58M374 58L388 45M381 7L381 7M381 7L388 45M603 464L581 458M581 458L559 467M559 467L528 552M85 472L110 443M138 469L110 443M165 465L176 476M165 465L138 469M51 459L85 472M51 459L51 458M51 458L23 447M-7 462L23 447M-7 462L-36 434M64 186L24 126M64 186L83 162M24 126L84 137M83 162L84 137M234 232L253 200M234 232L261 262M253 200L291 225M291 225L272 259M261 262L272 259M62 189L64 186M62 189L69 211M119 214L122 176M119 214L115 218M83 162L122 176M115 218L91 225M69 211L91 225M90 299L121 285M90 299L64 281M121 285L121 280M121 280L92 243M64 281L92 243M115 218L143 251M143 251L121 280M91 225L92 243M230 398L202 360M230 398L253 383M202 360L216 348M253 383L253 353M216 348L253 353M62 189L15 185M24 126L18 123M18 123L0 172M15 185L0 172M17 123L18 123M0 172L-82 188M581 458L581 413M631 447L608 402M608 402L581 413M608 402L619 382M182 4L163 27M182 4L156 -85M163 27L118 9M219 14L182 4M94 6L118 10M118 10L118 9M219 14L215 53M219 14L261 23M261 23L265 61M265 61L231 68M231 68L215 53M219 14L219 14M176 62L165 50M176 62L215 53M165 50L163 27M272 12L261 23M308 51L275 67M275 67L265 61M275 67L278 83M278 83L244 119M244 119L227 86M227 86L231 68M118 10L111 59M165 50L116 63M111 59L116 63M378 83L419 90M378 83L367 102M367 102L407 132M430 117L433 109M430 117L417 132M419 90L433 109M417 132L407 132M162 131L182 139M162 131L155 99M200 98L194 132M200 98L175 71M182 139L194 132M175 71L155 99M244 119L243 126M227 86L200 98M235 133L243 126M235 133L194 132M176 62L175 71M122 87L116 63M122 87L155 99M326 58L327 86M278 83L298 104M298 104L327 86M374 58L378 83M367 102L357 108M357 108L327 86M235 133L239 174M243 126L289 138M239 174L254 184M254 184L285 173M285 173L289 138M298 104L298 130M289 138L298 130M230 398L229 402M202 360L201 360M201 360L178 379M191 423L178 379M191 423L203 426M229 402L203 426M165 465L167 432M176 476L213 449M167 432L191 423M203 426L213 449M213 449L233 462M164 190L167 206M164 190L184 153M184 153L211 182M211 182L197 216M167 206L178 217M178 217L197 216M119 214L167 206M122 176L132 170M132 170L164 190M142 140L132 170M142 140L162 131M182 139L184 153M239 174L211 182M254 184L253 200M217 230L197 216M217 230L234 232M163 249L178 217M163 249L143 251M217 230L199 268M261 262L247 293M247 293L227 299M227 299L219 296M219 296L199 268M163 249L173 266M199 268L173 266M-6 252L11 269M-6 252L9 224M11 269L39 262M9 224L10 223M10 223L44 234M44 234L39 262M-15 304L5 295M5 295L11 269M15 185L10 223M69 211L44 234M60 281L39 262M60 281L64 281M5 295L31 316M60 281L37 316M37 316L31 316M90 299L87 328M37 316L67 342M87 328L67 342M284 409L309 438M284 409L259 429M259 429L257 443M257 443L290 463M290 463L309 453M309 453L309 438M321 385L329 416M321 385L294 388M294 388L287 394M287 394L284 409M329 416L309 438M253 383L287 394M229 402L259 429M233 462L257 443M279 336L278 335M279 336L319 332M278 335L272 322M272 322L307 287M319 332L319 290M319 290L307 287M294 388L279 336M253 353L278 335M216 348L227 299M247 293L272 322M276 260L272 259M276 260L307 287M276 260L336 252M336 279L341 259M336 279L319 290M336 252L341 259M67 29L70 40M111 59L95 60M70 40L95 60M16 32L39 79M70 40L39 79M21 102L39 84M39 84L39 79M103 125L85 137M103 125L106 110M106 110L76 82M85 137L60 88M60 88L76 82M142 140L103 125M84 137L85 137M122 87L106 110M95 60L76 82M39 84L60 88M419 90L432 44M463 97L433 109M463 97L449 53M449 53L432 44M466 97L463 97M466 97L501 74M501 74L491 50M449 53L491 50M388 45L431 41M431 41L432 44M430 117L465 146M466 97L485 127M485 127L465 146M438 183L462 173M438 183L431 180M431 180L417 132M465 146L462 173M438 183L444 224M499 214L490 182M499 214L493 224M493 224L445 225M462 173L490 182M444 224L445 225M387 199L390 190M387 199L415 230M390 190L431 180M444 224L415 230M387 199L377 211M377 211L378 253M378 253L394 263M415 230L394 263M336 279L359 303M398 284L359 303M398 284L400 273M378 253L341 259M400 273L394 263M497 250L489 293M497 250L497 250M497 250L446 265M489 293L461 293M457 291L461 293M457 291L445 267M445 267L446 265M555 227L529 213M556 233L523 259M523 259L497 250M529 213L499 214M493 224L497 250M445 225L446 265M398 284L413 324M413 324L457 291M400 273L445 267M523 259L536 294M503 304L534 297M503 304L489 293M536 294L534 297M570 251L563 284M536 294L563 284M627 271L589 302M563 284L589 302M591 327L589 302M619 382L574 368M581 413L555 397M574 368L555 397M591 327L569 341M574 368L569 341M534 297L549 337M569 341L549 337M503 304L497 331M549 337L523 356M497 331L523 356M523 109L511 79M523 109L572 98M572 98L543 67M511 79L532 66M543 67L532 66M576 99L588 67M576 99L572 98M543 67L576 47M576 47L588 67M584 111L576 99M291 225L310 212M285 173L304 188M304 188L310 212M336 252L327 220M310 212L327 220M377 211L340 213M340 213L327 220M185 340L154 344M185 340L177 310M177 310L161 302M154 344L138 323M161 302L144 306M144 306L138 323M201 360L185 340M178 379L149 380M149 380L154 344M219 296L177 310M173 266L161 302M121 285L144 306M117 340L87 328M117 340L138 323M-15 304L-26 335M31 316L18 336M18 336L-26 335M137 386L130 413M137 386L120 368M120 368L81 373M81 373L84 412M84 412L112 426M112 426L130 413M167 432L130 413M149 380L137 386M117 340L120 368M67 342L64 358M64 358L81 373M51 458L59 417M110 443L112 426M59 417L84 412M476 467L429 454M421 474L429 454M376 471L421 474M329 416L354 425M309 453L329 464M354 425L329 464M376 471L375 470M375 470L329 464M329 464L329 464M359 303L356 328M413 324L412 334M412 334L389 343M389 343L356 328M321 385L333 375M319 332L332 340M333 375L332 340M332 340L356 328M407 421L380 425M407 421L416 393M416 393L380 371M372 420L380 425M372 420L364 385M364 385L380 371M428 437L429 454M428 437L407 421M375 470L380 425M354 425L372 420M333 375L364 385M389 343L380 371M381 7L408 -3M431 41L433 29M408 -3L433 29M408 -3L494 -372M523 110L496 129M523 110L549 158M496 129L507 166M507 166L540 163M549 158L540 163M501 74L511 79M485 127L496 129M523 109L523 110M553 159L549 158M490 182L507 166M529 213L540 163M576 47L574 32M604 13L574 32M340 162L350 167M340 162L331 137M356 110L331 137M356 110L379 155M350 167L374 169M379 155L374 169M304 188L340 162M340 213L350 167M298 130L331 137M357 108L356 110M407 132L379 155M390 190L374 169M47 369L21 363M47 369L43 406M21 363L-9 382M43 406L19 412M19 412L-7 401M-7 401L-9 382M64 358L47 369M18 336L21 363M59 417L43 406M23 447L19 412M559 467L533 444M555 397L555 397M533 444L555 397M523 356L519 381M555 397L519 381M460 398L479 378M460 398L429 381M479 378L465 345M429 381L430 348M430 348L463 344M463 344L465 345M428 437L461 420M461 420L460 398M416 393L429 381M497 331L465 345M519 381L513 385M513 385L479 378M412 334L430 348M461 293L463 344M433 29L464 2M464 2L501 -278M491 50L495 32M464 2L495 32M604 13L532 -119M521 442L505 419M521 442L491 471M505 419L470 426M470 426L479 466M491 471L479 466M533 444L521 442M513 385L505 419M461 420L470 426M476 467L479 466M507 26L532 -118M507 26L537 29M537 29L552 21M495 32L507 26M532 66L537 29M574 32L552 21" fill="none" stroke="#eedede" stroke-width="2.69" stroke-opacity="0.45"/></g></g><g transform="translate(140,440) scale(0.21168)"><clipPath id="c3"><path d="M40,300C39.5,287.5 40.8,266.7 45,250C49.2,233.3 56.7,215 65,200C73.3,185 84.2,173.3 95,160C105.8,146.7 117.5,131.7 130,120C142.5,108.3 155.8,99.2 170,90C184.2,80.8 200,71.7 215,65C230,58.3 244.2,53.3 260,50C275.8,46.7 293.3,45.3 310,45C326.7,44.7 343.3,45.5 360,48C376.7,50.5 393.3,54.7 410,60C426.7,65.3 443.3,72.5 460,80C476.7,87.5 494.2,95 510,105C525.8,115 541.7,127.5 555,140C568.3,152.5 579.2,165.8 590,180C600.8,194.2 612,210 620,225C628,240 634.7,255.8 638,270C641.3,284.2 641.3,297.5 640,310C638.7,322.5 636.7,335 630,345C623.3,355 611.7,363.3 600,370C588.3,376.7 573.3,382.5 560,385C546.7,387.5 533.3,385 520,385C506.7,385 491.7,383.3 480,385C468.3,386.7 458.3,390 450,395C441.7,400 438.3,410 430,415C421.7,420 411.7,424.2 400,425C388.3,425.8 373.3,423.3 360,420C346.7,416.7 331.7,409.2 320,405C308.3,400.8 301.7,398.3 290,395C278.3,391.7 263.3,388.3 250,385C236.7,381.7 225,378.3 210,375C195,371.7 176.7,368.3 160,365C143.3,361.7 125,359.2 110,355C95,350.8 80.3,345 70,340C59.7,335 53,331.7 48,325C43,318.3 40.5,312.5 40,300Z"/></clipPath><path d="M40,300C39.5,287.5 40.8,266.7 45,250C49.2,233.3 56.7,215 65,200C73.3,185 84.2,173.3 95,160C105.8,146.7 117.5,131.7 130,120C142.5,108.3 155.8,99.2 170,90C184.2,80.8 200,71.7 215,65C230,58.3 244.2,53.3 260,50C275.8,46.7 293.3,45.3 310,45C326.7,44.7 343.3,45.5 360,48C376.7,50.5 393.3,54.7 410,60C426.7,65.3 443.3,72.5 460,80C476.7,87.5 494.2,95 510,105C525.8,115 541.7,127.5 555,140C568.3,152.5 579.2,165.8 590,180C600.8,194.2 612,210 620,225C628,240 634.7,255.8 638,270C641.3,284.2 641.3,297.5 640,310C638.7,322.5 636.7,335 630,345C623.3,355 611.7,363.3 600,370C588.3,376.7 573.3,382.5 560,385C546.7,387.5 533.3,385 520,385C506.7,385 491.7,383.3 480,385C468.3,386.7 458.3,390 450,395C441.7,400 438.3,410 430,415C421.7,420 411.7,424.2 400,425C388.3,425.8 373.3,423.3 360,420C346.7,416.7 331.7,409.2 320,405C308.3,400.8 301.7,398.3 290,395C278.3,391.7 263.3,388.3 250,385C236.7,381.7 225,378.3 210,375C195,371.7 176.7,368.3 160,365C143.3,361.7 125,359.2 110,355C95,350.8 80.3,345 70,340C59.7,335 53,331.7 48,325C43,318.3 40.5,312.5 40,300Z" fill="#9d5c58"/><path clip-path="url(#c3)" d="M332 43L369 28M332 43L307 26M654 407L630 368M654 407L619 421M630 368L565 376M565 376L619 421M613 430L619 421M178 434L147 406M178 434L209 421M172 364L206 380M172 364L153 375M209 421L206 380M153 375L147 406M46 331L28 327M46 331L52 374M35 389L52 374M35 389L-149 346M28 327L-149 346M238 34L245 32M307 26L273 39M245 32L273 39M369 28L400 62M400 62L427 23M673 200L631 176M673 200L1087 264M628 153L631 176M625 38L638 76M638 76L685 98M663 297L629 320M663 297L1087 264M629 320L630 368M663 297L622 259M629 320L620 320M620 320L581 279M622 259L581 279M673 200L615 240M622 259L615 240M595 195L631 176M595 195L599 228M615 240L599 228M613 430L568 459M599 228L559 251M581 279L557 275M559 251L557 275M332 318L321 292M332 318L372 310M321 292L341 256M398 277L372 310M398 277L392 267M392 267L341 256M274 281L321 292M274 281L275 243M307 220L275 243M307 220L335 235M341 256L335 235M401 226L375 198M401 226L392 267M335 235L374 198M374 198L375 198M401 226L431 220M405 176L375 198M405 176L429 177M429 177L431 220M427 23L469 37M485 21L469 37M595 195L566 180M559 251L532 216M532 216L548 186M548 186L566 180M46 331L76 316M52 374L88 387M109 360L88 387M109 360L101 328M76 316L101 328M228 434L250 415M228 434L267 535M250 415L300 416M209 421L228 434M206 380L220 372M250 415L253 383M253 383L220 372M300 416L308 405M253 383L281 372M308 405L281 372M254 296L274 281M254 296L248 319M332 318L330 325M248 319L281 348M330 325L281 348M220 372L240 324M240 324L248 319M281 372L281 348M111 429L92 413M111 429L127 562M60 426L92 413M153 375L109 360M147 406L111 429M88 387L92 413M178 434L127 562M38 419L60 426M38 419L35 389M254 296L218 268M218 268L225 230M275 243L238 220M225 230L238 220M329 79L332 43M329 79L367 104M400 62L401 66M401 66L367 104M398 432L418 428M398 432L301 813M418 428L439 440M439 440L488 635M455 340L453 376M455 340L424 334M424 334L398 347M428 391L389 364M428 391L453 376M389 364L398 347M398 277L408 281M408 281L424 334M372 310L398 347M568 459L538 411M538 411L498 443M439 440L469 424M498 443L469 424M418 428L428 391M453 376L473 395M473 395L469 424M620 320L564 342M565 376L559 374M564 342L559 374M538 411L539 391M559 374L539 391M473 395L522 385M539 391L522 385M455 340L464 334M522 385L490 340M464 334L490 340M564 342L541 306M490 340L541 306M557 275L540 295M540 295L541 306M520 219L494 273M520 219L480 203M480 203L455 231M455 231L461 269M494 273L470 276M461 269L470 276M532 216L520 219M540 295L494 273M475 170L480 203M475 170L515 155M515 155L548 186M429 177L455 156M455 156L475 170M431 220L455 231M408 281L461 269M464 334L470 276M601 132L576 138M601 132L615 91M576 138L551 113M615 91L570 84M570 84L555 98M551 113L555 98M628 153L601 132M566 180L576 138M638 76L615 91M515 155L522 124M522 124L551 113M311 405L349 368M311 405L347 431M383 422L373 373M383 422L347 431M373 373L349 368M308 405L311 405M330 325L349 368M398 432L383 422M389 364L373 373M28 327L31 277M76 316L75 289M75 289L71 282M71 282L31 277M31 277L0 242M224 61L259 102M224 61L238 34M273 39L283 71M259 102L283 71M210 70L203 130M210 70L224 61M203 130L261 116M259 102L261 116M329 79L318 85M318 85L283 71M302 199L271 171M302 199L349 162M271 171L282 135M348 149L349 162M348 149L292 132M292 132L282 135M307 220L302 199M243 185L238 220M243 185L271 171M374 198L349 162M203 130L203 130M203 130L220 172M220 172L243 185M261 116L282 135M405 176L394 133M394 133L368 123M368 123L348 149M367 104L368 123M318 85L292 132M210 70L162 62M162 62L151 30M151 30L137 21M462 60L497 88M462 60L434 81M434 81L445 126M498 106L497 88M498 106L448 128M448 128L445 126M469 37L462 60M401 66L434 81M394 133L445 126M522 124L498 106M520 65L555 98M520 65L497 88M455 156L448 128M513 31L523 45M513 31L567 -27M523 45L568 46M587 25L568 46M485 21L513 31M520 65L523 45M570 84L568 46M625 38L587 25M177 279L173 278M177 279L197 319M173 278L148 283M197 319L172 355M172 355L139 306M139 306L148 283M218 268L177 279M240 324L197 319M172 364L172 355M101 328L139 306M75 289L129 264M129 264L148 283M197 185L190 221M197 185L147 175M147 208L178 226M147 208L145 177M190 221L178 226M147 175L145 177M220 172L197 185M225 230L190 221M166 132L203 130M166 132L147 175M129 264L119 238M119 238L147 208M173 278L178 226M24 17L-11 50M24 17L68 39M68 39L89 33M137 21L102 36M89 33L102 36M119 238L76 226M71 282L70 229M76 226L70 229M70 229L31 224M31 224L29 190M162 62L153 81M102 36L104 78M104 78L153 81M166 132L153 115M153 115L153 81M29 190L60 167M37 128L60 167M145 177L99 168M153 115L93 121M93 121L99 168M76 226L90 175M60 167L90 175M99 168L90 175M88 98L87 114M88 98L62 69M87 114L41 123M41 123L32 81M32 81L62 69M104 78L88 98M93 121L87 114M68 39L62 69M37 128L41 123" fill="none" stroke="#c8c8c8" stroke-width="2.60" stroke-opacity="0.8"/><g clip-path="url(#c3)" stroke="#e6d6d6" stroke-width="2.36" stroke-linejoin="round"><path d="M235,250 270,235 320,225 380,218 430,215 480,220 520,235 540,260 545,290 535,320 510,345 480,360 460,385 440,400 410,410 380,405 345,395 310,385 275,380 250,360 235,330 230,290Z" fill="#d7d7d7"/><path d="M150,120 180,95 215,70 225,95 205,110 175,125 150,130Z" fill="#d7d7d7"/><path d="M430,70 470,85 510,105 550,135 560,165 540,175 505,150 470,120 440,100Z" fill="#d7d7d7"/><path d="M515,205 550,200 580,210 585,240 555,255 525,250Z" fill="#d7d7d7"/><path d="M140,135 175,125 210,120 235,140 260,165 300,175 350,170 400,180 420,200 380,215 320,222 270,235 240,245 215,250 180,235 150,210 135,180Z" fill="#aa6f6b"/><path d="M150,230 200,225 232,245 230,300 205,300 160,270Z" fill="#8e4643"/><path d="M548,265 590,250 625,262 640,310 628,345 590,360 555,350 545,310Z" fill="#aa6f6b"/><path d="M215,65 260,50 310,45 360,50 410,62 440,90 470,120 505,150 540,180 548,215 520,225 490,232 450,205 420,185 380,170 330,160 280,150 240,135 220,110 210,85Z" fill="#7b292b"/></g><g clip-path="url(#c3)"><path d="M332 43L369 28M332 43L307 26M654 407L630 368M654 407L619 421M630 368L565 376M565 376L619 421M613 430L619 421M178 434L147 406M178 434L209 421M172 364L206 380M172 364L153 375M209 421L206 380M153 375L147 406M46 331L28 327M46 331L52 374M35 389L52 374M35 389L-149 346M28 327L-149 346M238 34L245 32M307 26L273 39M245 32L273 39M369 28L400 62M400 62L427 23M673 200L631 176M673 200L1087 264M628 153L631 176M625 38L638 76M638 76L685 98M663 297L629 320M663 297L1087 264M629 320L630 368M663 297L622 259M629 320L620 320M620 320L581 279M622 259L581 279M673 200L615 240M622 259L615 240M595 195L631 176M595 195L599 228M615 240L599 228M613 430L568 459M599 228L559 251M581 279L557 275M559 251L557 275M332 318L321 292M332 318L372 310M321 292L341 256M398 277L372 310M398 277L392 267M392 267L341 256M274 281L321 292M274 281L275 243M307 220L275 243M307 220L335 235M341 256L335 235M401 226L375 198M401 226L392 267M335 235L374 198M374 198L375 198M401 226L431 220M405 176L375 198M405 176L429 177M429 177L431 220M427 23L469 37M485 21L469 37M595 195L566 180M559 251L532 216M532 216L548 186M548 186L566 180M46 331L76 316M52 374L88 387M109 360L88 387M109 360L101 328M76 316L101 328M228 434L250 415M228 434L267 535M250 415L300 416M209 421L228 434M206 380L220 372M250 415L253 383M253 383L220 372M300 416L308 405M253 383L281 372M308 405L281 372M254 296L274 281M254 296L248 319M332 318L330 325M248 319L281 348M330 325L281 348M220 372L240 324M240 324L248 319M281 372L281 348M111 429L92 413M111 429L127 562M60 426L92 413M153 375L109 360M147 406L111 429M88 387L92 413M178 434L127 562M38 419L60 426M38 419L35 389M254 296L218 268M218 268L225 230M275 243L238 220M225 230L238 220M329 79L332 43M329 79L367 104M400 62L401 66M401 66L367 104M398 432L418 428M398 432L301 813M418 428L439 440M439 440L488 635M455 340L453 376M455 340L424 334M424 334L398 347M428 391L389 364M428 391L453 376M389 364L398 347M398 277L408 281M408 281L424 334M372 310L398 347M568 459L538 411M538 411L498 443M439 440L469 424M498 443L469 424M418 428L428 391M453 376L473 395M473 395L469 424M620 320L564 342M565 376L559 374M564 342L559 374M538 411L539 391M559 374L539 391M473 395L522 385M539 391L522 385M455 340L464 334M522 385L490 340M464 334L490 340M564 342L541 306M490 340L541 306M557 275L540 295M540 295L541 306M520 219L494 273M520 219L480 203M480 203L455 231M455 231L461 269M494 273L470 276M461 269L470 276M532 216L520 219M540 295L494 273M475 170L480 203M475 170L515 155M515 155L548 186M429 177L455 156M455 156L475 170M431 220L455 231M408 281L461 269M464 334L470 276M601 132L576 138M601 132L615 91M576 138L551 113M615 91L570 84M570 84L555 98M551 113L555 98M628 153L601 132M566 180L576 138M638 76L615 91M515 155L522 124M522 124L551 113M311 405L349 368M311 405L347 431M383 422L373 373M383 422L347 431M373 373L349 368M308 405L311 405M330 325L349 368M398 432L383 422M389 364L373 373M28 327L31 277M76 316L75 289M75 289L71 282M71 282L31 277M31 277L0 242M224 61L259 102M224 61L238 34M273 39L283 71M259 102L283 71M210 70L203 130M210 70L224 61M203 130L261 116M259 102L261 116M329 79L318 85M318 85L283 71M302 199L271 171M302 199L349 162M271 171L282 135M348 149L349 162M348 149L292 132M292 132L282 135M307 220L302 199M243 185L238 220M243 185L271 171M374 198L349 162M203 130L203 130M203 130L220 172M220 172L243 185M261 116L282 135M405 176L394 133M394 133L368 123M368 123L348 149M367 104L368 123M318 85L292 132M210 70L162 62M162 62L151 30M151 30L137 21M462 60L497 88M462 60L434 81M434 81L445 126M498 106L497 88M498 106L448 128M448 128L445 126M469 37L462 60M401 66L434 81M394 133L445 126M522 124L498 106M520 65L555 98M520 65L497 88M455 156L448 128M513 31L523 45M513 31L567 -27M523 45L568 46M587 25L568 46M485 21L513 31M520 65L523 45M570 84L568 46M625 38L587 25M177 279L173 278M177 279L197 319M173 278L148 283M197 319L172 355M172 355L139 306M139 306L148 283M218 268L177 279M240 324L197 319M172 364L172 355M101 328L139 306M75 289L129 264M129 264L148 283M197 185L190 221M197 185L147 175M147 208L178 226M147 208L145 177M190 221L178 226M147 175L145 177M220 172L197 185M225 230L190 221M166 132L203 130M166 132L147 175M129 264L119 238M119 238L147 208M173 278L178 226M24 17L-11 50M24 17L68 39M68 39L89 33M137 21L102 36M89 33L102 36M119 238L76 226M71 282L70 229M76 226L70 229M70 229L31 224M31 224L29 190M162 62L153 81M102 36L104 78M104 78L153 81M166 132L153 115M153 115L153 81M29 190L60 167M37 128L60 167M145 177L99 168M153 115L93 121M93 121L99 168M76 226L90 175M60 167L90 175M99 168L90 175M88 98L87 114M88 98L62 69M87 114L41 123M41 123L32 81M32 81L62 69M104 78L88 98M93 121L87 114M68 39L62 69M37 128L41 123" fill="none" stroke="#eedede" stroke-width="2.60" stroke-opacity="0.45"/></g><path d="M235,250 270,235 320,225 380,218 430,215 480,220 520,235 540,260 545,290 535,320 510,345 480,360 460,385 440,400 410,410 380,405 345,395 310,385 275,380 250,360 235,330 230,290Z" fill="#d7d7d7" stroke="#e6d6d6" stroke-width="2.36"/><path d="M150,120 180,95 215,70 225,95 205,110 175,125 150,130Z" fill="#d7d7d7" stroke="#e6d6d6" stroke-width="2.36"/><path d="M430,70 470,85 510,105 550,135 560,165 540,175 505,150 470,120 440,100Z" fill="#d7d7d7" stroke="#e6d6d6" stroke-width="2.36"/><path d="M515,205 550,200 580,210 585,240 555,255 525,250Z" fill="#d7d7d7" stroke="#e6d6d6" stroke-width="2.36"/></g><g transform="translate(300,335) scale(0.20438)"><clipPath id="c4"><path d="M48,261.9C48,252.6 47.3,242.4 49.9,232.1C52.5,221.9 57.8,211.2 63.8,200.6C69.9,189.9 77.8,178.9 86.1,168.1C94.5,157.2 104.8,145.5 114,135.6C123.1,125.7 131.8,117.8 140.9,108.6C150,99.5 159.5,89.3 168.8,80.8C178,72.3 187.3,64.5 196.6,57.6C205.9,50.6 213.8,44.3 224.5,39C235.1,33.7 248.5,29.1 260.7,26C272.9,22.9 285,21.4 297.8,20.4C310.7,19.5 321.8,18.9 337.8,20.4C353.7,22 376.4,25.7 393.5,29.7C410.5,33.7 424.4,39 439.9,44.6C455.4,50.1 471.6,55.9 486.3,63.1C501,70.4 515,78.6 528.1,88.2C541.3,97.8 553.6,109.1 565.3,120.7C576.9,132.3 588,144.7 597.8,157.9C607.5,171 616.8,184.9 623.8,199.6C630.7,214.3 636.4,232.9 639.5,246.1C642.6,259.2 643.1,267.7 642.3,278.6C641.6,289.4 640,302.6 634.9,311.1C629.8,319.6 621.7,325 611.7,329.6C601.6,334.3 587.7,336.3 574.5,338.9C561.4,341.6 545.1,342.3 532.8,345.4C520.4,348.5 509.5,352.4 500.3,357.5C491,362.6 484,369.9 477,376.1C470.1,382.3 464.7,388.5 458.5,394.6C452.3,400.8 447.6,407 439.9,413.2C432.2,419.4 422.1,427.6 412,431.8C402,436 390.4,437.8 379.5,438.3C368.7,438.8 357.1,437.2 347,434.6C337,431.9 327.4,426.4 319.2,422.5C311,418.6 309,415.5 297.8,411.4C286.7,407.2 267.6,402.8 252.3,397.4C237,392 222.8,384.9 205.9,378.9C189,372.8 168,367.2 151.1,361.2C134.2,355.2 118.5,349.5 104.7,342.6C90.9,335.8 77.6,329.5 68.5,320.4C59.3,311.2 53.3,297.6 49.9,287.9C46.5,278.1 48,271.1 48,261.9Z"/></clipPath><path d="M48,261.9C48,252.6 47.3,242.4 49.9,232.1C52.5,221.9 57.8,211.2 63.8,200.6C69.9,189.9 77.8,178.9 86.1,168.1C94.5,157.2 104.8,145.5 114,135.6C123.1,125.7 131.8,117.8 140.9,108.6C150,99.5 159.5,89.3 168.8,80.8C178,72.3 187.3,64.5 196.6,57.6C205.9,50.6 213.8,44.3 224.5,39C235.1,33.7 248.5,29.1 260.7,26C272.9,22.9 285,21.4 297.8,20.4C310.7,19.5 321.8,18.9 337.8,20.4C353.7,22 376.4,25.7 393.5,29.7C410.5,33.7 424.4,39 439.9,44.6C455.4,50.1 471.6,55.9 486.3,63.1C501,70.4 515,78.6 528.1,88.2C541.3,97.8 553.6,109.1 565.3,120.7C576.9,132.3 588,144.7 597.8,157.9C607.5,171 616.8,184.9 623.8,199.6C630.7,214.3 636.4,232.9 639.5,246.1C642.6,259.2 643.1,267.7 642.3,278.6C641.6,289.4 640,302.6 634.9,311.1C629.8,319.6 621.7,325 611.7,329.6C601.6,334.3 587.7,336.3 574.5,338.9C561.4,341.6 545.1,342.3 532.8,345.4C520.4,348.5 509.5,352.4 500.3,357.5C491,362.6 484,369.9 477,376.1C470.1,382.3 464.7,388.5 458.5,394.6C452.3,400.8 447.6,407 439.9,413.2C432.2,419.4 422.1,427.6 412,431.8C402,436 390.4,437.8 379.5,438.3C368.7,438.8 357.1,437.2 347,434.6C337,431.9 327.4,426.4 319.2,422.5C311,418.6 309,415.5 297.8,411.4C286.7,407.2 267.6,402.8 252.3,397.4C237,392 222.8,384.9 205.9,378.9C189,372.8 168,367.2 151.1,361.2C134.2,355.2 118.5,349.5 104.7,342.6C90.9,335.8 77.6,329.5 68.5,320.4C59.3,311.2 53.3,297.6 49.9,287.9C46.5,278.1 48,271.1 48,261.9Z" fill="#d7d7d7"/><path clip-path="url(#c4)" d="M113 188L92 203M113 188L125 193M92 203L88 241M88 241L132 238M132 238L125 193M113 188L109 170M162 172L129 149M162 172L156 185M109 170L129 149M125 193L156 185M169 208L156 185M169 208L149 243M132 238L143 244M149 243L143 244M56 184L92 203M56 184L52 170M109 170L85 153M52 170L85 153M129 149L129 128M129 128L99 114M99 114L92 118M92 118L85 153M99 114L103 97M78 72L103 97M78 72L46 82M92 118L49 108M46 82L49 108M56 184L46 212M46 212L43 243M88 241L87 243M43 243L44 244M44 244L87 243M635 124L623 124M635 124L647 116M623 124L600 83M647 116L656 88M600 83L637 77M656 88L637 77M665 5L664 25M637 77L622 40M664 25L622 40M588 78L600 83M588 78L587 45M587 45L614 37M622 40L614 37M162 172L178 158M178 158L168 130M129 128L149 120M168 130L149 120M240 183L219 153M240 183L214 224M214 224L199 212M199 212L197 160M197 160L219 153M178 158L197 160M169 208L199 212M30 456L59 444M59 444L68 450M149 243L183 259M214 224L215 226M183 259L215 226M143 244L136 273M87 243L98 286M98 286L108 291M108 291L136 273M53 -2L-47 19M30 456L-88 446M37 161L33 128M37 161L-13 183M33 128L-35 107M52 170L37 161M49 108L33 128M46 212L-13 183M46 82L40 75M40 75L-35 107M35 58L-47 19M35 58L40 75M71 298L44 258M71 298L55 325M44 258L25 303M25 303L36 323M36 323L55 325M44 244L44 258M98 286L71 298M619 430L634 459M619 430L590 443M590 443L586 518M634 459L586 518M635 124L639 170M659 190L639 170M595 135L623 124M595 135L600 171M639 170L600 171M638 -9L616 11M638 -9L606 -64M616 11L588 -8M665 5L638 -9M614 37L616 11M587 45L582 41M588 -8L575 4M582 41L575 4M575 4L539 -4M588 78L575 91M582 41L540 46M540 46L536 87M536 87L575 91M595 135L580 129M580 129L575 91M116 5L96 47M116 5L81 -5M62 28L61 3M62 28L90 48M90 48L96 47M61 3L81 -5M134 1L116 5M53 -2L61 3M35 58L62 28M78 72L90 48M134 1L139 4M177 -5L139 4M282 106L265 123M282 106L324 125M265 123L281 160M324 125L314 157M314 157L296 167M296 167L281 160M240 183L246 184M219 153L226 138M246 184L281 160M226 138L261 123M261 123L265 123M338 119L352 127M338 119L324 125M352 127L351 161M336 169L351 161M336 169L314 157M338 193L336 169M338 193L318 208M296 167L299 190M318 208L299 190M246 184L270 208M299 190L270 208M215 226L241 245M241 245L268 232M270 208L268 232M233 437L275 445M233 437L223 446M275 445L235 536M223 446L235 536M108 291L121 324M121 324L105 337M55 325L63 333M63 333L105 337M188 282L230 282M188 282L173 309M194 333L172 314M194 333L225 322M225 322L230 282M173 309L172 314M183 259L188 282M242 272L241 245M242 272L230 282M136 273L173 309M121 324L144 328M144 328L172 314M338 193L372 198M351 161L374 174M374 174L372 198M275 445L285 441M304 455L285 441M619 430L631 402M590 443L569 423M569 423L569 420M569 420L584 398M584 398L631 402M652 339L629 336M652 339L671 302M629 336L622 324M671 302L650 287M650 287L634 295M622 324L634 295M540 46L525 30M539 -4L535 -1M525 30L535 -1M419 16L378 15M370 -9L378 15M264 61L283 96M264 61L291 42M291 42L308 43M308 43L312 77M283 96L312 77M280 11L319 -9M280 11L263 4M263 4L298 -105M319 -9L298 -105M323 -4L329 31M323 -4L319 -9M329 31L308 43M291 42L280 11M370 -9L323 -4M96 47L112 57M139 4L144 32M144 32L112 57M103 97L119 78M119 78L112 57M149 120L152 82M119 78L152 82M177 -5L189 5M189 5L230 -10M263 4L247 10M247 10L230 -10M318 208L320 231M268 232L300 244M320 231L300 244M372 198L377 206M377 206L350 245M320 231L350 245M68 450L103 446M65 357L83 386M65 357L29 381M83 386L53 414M29 381L40 406M40 406L53 414M63 333L65 357M105 337L106 364M106 364L88 386M88 386L83 386M59 444L53 414M114 408L88 386M114 408L117 432M117 432L103 446M163 394L172 380M163 394L136 389M172 380L146 351M136 389L129 372M146 351L129 372M144 328L146 351M194 333L197 366M197 366L172 380M114 408L136 389M106 364L129 372M211 443L166 455M211 443L194 416M194 416L166 410M166 410L155 436M155 436L166 455M223 446L211 443M233 437L235 420M235 420L214 390M214 390L194 416M197 366L212 377M212 377L214 390M163 394L166 410M117 432L155 436M427 250L433 274M427 250L407 246M407 246L395 260M433 274L405 297M395 260L396 287M396 287L405 297M455 238L427 250M455 238L455 223M455 223L425 196M425 196L402 212M402 212L407 246M402 212L377 206M350 245L351 246M351 246L395 260M412 313L438 321M412 313L405 297M450 281L438 321M450 281L433 274M536 87L525 95M525 95L488 70M525 30L490 38M490 38L486 43M486 43L488 70M235 420L273 390M285 441L287 400M273 390L287 400M304 455L334 448M287 400L317 395M317 395L320 397M334 448L320 397M325 348L373 362M325 348L323 350M373 362L355 394M323 350L317 395M320 397L355 394M338 450L368 424M399 468L368 424M338 450L334 448M355 394L370 421M368 424L370 421M412 313L383 343M445 326L438 321M445 326L432 367M383 343L381 358M381 358L399 371M432 367L399 371M373 362L381 358M370 421L403 411M399 371L403 411M569 423L539 452M539 452L576 548M671 457L634 459M633 401L633 394M633 401L662 415M633 394L669 358M662 415L760 367M584 398L573 365M618 362L633 394M618 362L576 358M576 358L573 365M631 402L633 401M671 457L662 415M652 339L669 358M629 336L618 362M671 302L1047 319M643 250L652 261M643 250L652 205M652 261L734 240M660 197L652 205M650 287L652 261M659 190L660 197M455 238L478 264M450 281L478 266M478 264L478 266M580 129L545 145M525 95L522 111M522 111L545 145M600 171L598 173M605 212L597 203M605 212L652 205M598 173L597 203M484 17L448 -12M490 38L484 17M535 -1L501 -20M430 32L426 19M430 32L442 40M426 19L448 -12M486 43L442 40M426 19L419 16M264 61L261 60M247 10L243 22M261 60L243 22M189 5L200 40M243 22L200 40M386 86L397 78M386 86L343 84M397 66L364 38M397 66L397 78M364 38L349 41M349 41L342 84M342 84L343 84M338 119L343 84M352 127L378 127M378 127L386 86M430 32L397 66M378 15L364 38M329 31L349 41M312 77L342 84M282 106L283 96M304 311L290 286M304 311L327 324M327 324L348 304M296 279L344 285M296 279L290 286M344 285L350 296M350 296L348 304M325 348L327 324M383 343L348 304M300 244L296 279M351 246L344 285M242 272L271 290M271 290L290 286M396 287L350 296M285 335L261 327M285 335L295 349M295 349L271 384M251 334L261 327M251 334L250 366M250 366L271 384M271 290L261 327M304 311L285 335M323 350L295 349M273 390L271 384M225 322L251 334M212 377L250 366M432 367L443 379M403 411L413 418M443 379L445 405M445 405L413 418M399 468L415 438M415 438L413 418M634 295L603 278M643 250L604 250M603 278L604 250M605 212L600 245M604 250L600 245M488 70L465 91M522 111L481 130M481 130L462 122M462 122L465 91M442 40L444 77M397 78L415 90M415 90L444 77M444 77L465 91M389 159L428 185M389 159L391 137M391 137L428 127M428 185L438 172M438 172L439 131M428 127L439 131M425 196L428 185M374 174L389 159M378 127L391 137M415 90L428 127M455 223L480 205M480 205L478 179M478 179L438 172M478 179L492 165M481 130L492 165M462 122L439 131M529 185L528 172M529 185L556 213M528 172L542 157M556 213L568 206M568 206L566 172M542 157L566 172M480 205L505 217M505 217L529 185M492 165L528 172M545 145L542 157M598 173L566 172M597 203L568 206M199 43L232 73M199 43L171 63M170 68L171 63M170 68L199 102M199 102L203 103M203 103L229 81M229 81L232 73M261 60L232 73M200 40L199 43M144 32L171 63M152 82L170 68M168 130L199 102M226 138L203 103M261 123L229 81M513 439L464 540M513 439L512 437M512 437L461 445M458 451L461 445M539 452L513 439M415 438L458 451M445 405L460 415M460 415L461 445M496 385L526 364M496 385L497 400M497 400L510 414M510 414L541 403M541 403L546 375M546 375L526 364M443 379L482 367M482 367L496 385M460 415L497 400M512 437L510 414M569 420L541 403M573 365L546 375M622 324L597 321M603 278L584 294M584 294L597 321M576 358L574 348M574 348L597 321M505 217L512 237M556 213L552 233M512 237L552 233M478 264L506 248M512 237L506 248M600 245L562 246M552 233L562 246M584 294L551 289M562 246L551 289M543 322L546 292M543 322L523 337M523 337L480 329M545 292L546 292M545 292L489 297M489 297L479 328M479 328L480 329M574 348L543 322M551 289L546 292M526 364L523 337M482 367L480 329M506 248L545 292M478 266L489 297M445 326L479 328" fill="none" stroke="#c8c8c8" stroke-width="2.69" stroke-opacity="0.8"/><g clip-path="url(#c4)" stroke="#e6d6d6" stroke-width="2.45" stroke-linejoin="round"><path d="M52,270 58,235 75,200 100,160 125,125 150,110 185,115 215,120 222,160 220,210 205,235 185,240 190,270 180,300 175,325 195,345 230,370 250,390 220,385 170,365 120,345 80,325 58,300Z" fill="#9d5c58"/><path d="M110,150 130,125 160,112 200,118 218,140 222,180 215,225 190,240 150,235 120,225 105,195Z" fill="#aa6f6b"/><path d="M170,75 205,50 225,60 215,90 190,100 165,100Z" fill="#aa6f6b"/><path d="M205,45 240,30 290,20 350,22 400,35 420,45 395,60 360,70 345,90 350,118 310,115 265,120 228,128 225,95 215,65Z" fill="#7b292b"/><path d="M395,70 430,75 452,88 440,100 410,95Z" fill="#7b292b"/><path d="M220,125 265,110 320,105 345,110 365,130 372,170 365,200 345,215 320,218 300,230 270,232 245,225 225,210 218,170Z" fill="#7b292b"/><path d="M575,150 595,140 615,170 630,205 635,220 620,225 600,200 580,175Z" fill="#7b292b"/><path d="M380,270 395,262 410,230 450,230 490,250 530,265 552,290 548,320 515,320 490,310 480,340 470,375 455,385 435,360 410,330 385,310 378,290Z" fill="#7b292b"/><path d="M245,330 275,320 310,335 335,350 325,370 290,365 255,350Z" fill="#aa6f6b"/><path d="M310,380 340,350 375,345 400,360 410,385 405,410 370,412 330,405 312,395Z" fill="#aa6f6b"/><path d="M470,62 510,85 545,110 535,125 500,100 475,85Z" fill="#aa6f6b"/></g><clipPath id="c4k"><path d="M52,270 58,235 75,200 100,160 125,125 150,110 185,115 215,120 222,160 220,210 205,235 185,240 190,270 180,300 175,325 195,345 230,370 250,390 220,385 170,365 120,345 80,325 58,300Z"/><path d="M110,150 130,125 160,112 200,118 218,140 222,180 215,225 190,240 150,235 120,225 105,195Z"/><path d="M170,75 205,50 225,60 215,90 190,100 165,100Z"/><path d="M205,45 240,30 290,20 350,22 400,35 420,45 395,60 360,70 345,90 350,118 310,115 265,120 228,128 225,95 215,65Z"/><path d="M395,70 430,75 452,88 440,100 410,95Z"/><path d="M220,125 265,110 320,105 345,110 365,130 372,170 365,200 345,215 320,218 300,230 270,232 245,225 225,210 218,170Z"/><path d="M575,150 595,140 615,170 630,205 635,220 620,225 600,200 580,175Z"/><path d="M380,270 395,262 410,230 450,230 490,250 530,265 552,290 548,320 515,320 490,310 480,340 470,375 455,385 435,360 410,330 385,310 378,290Z"/><path d="M245,330 275,320 310,335 335,350 325,370 290,365 255,350Z"/><path d="M310,380 340,350 375,345 400,360 410,385 405,410 370,412 330,405 312,395Z"/><path d="M470,62 510,85 545,110 535,125 500,100 475,85Z"/></clipPath><g clip-path="url(#c4k)"><path d="M113 188L92 203M113 188L125 193M92 203L88 241M88 241L132 238M132 238L125 193M113 188L109 170M162 172L129 149M162 172L156 185M109 170L129 149M125 193L156 185M169 208L156 185M169 208L149 243M132 238L143 244M149 243L143 244M56 184L92 203M56 184L52 170M109 170L85 153M52 170L85 153M129 149L129 128M129 128L99 114M99 114L92 118M92 118L85 153M99 114L103 97M78 72L103 97M78 72L46 82M92 118L49 108M46 82L49 108M56 184L46 212M46 212L43 243M88 241L87 243M43 243L44 244M44 244L87 243M635 124L623 124M635 124L647 116M623 124L600 83M647 116L656 88M600 83L637 77M656 88L637 77M665 5L664 25M637 77L622 40M664 25L622 40M588 78L600 83M588 78L587 45M587 45L614 37M622 40L614 37M162 172L178 158M178 158L168 130M129 128L149 120M168 130L149 120M240 183L219 153M240 183L214 224M214 224L199 212M199 212L197 160M197 160L219 153M178 158L197 160M169 208L199 212M30 456L59 444M59 444L68 450M149 243L183 259M214 224L215 226M183 259L215 226M143 244L136 273M87 243L98 286M98 286L108 291M108 291L136 273M53 -2L-47 19M30 456L-88 446M37 161L33 128M37 161L-13 183M33 128L-35 107M52 170L37 161M49 108L33 128M46 212L-13 183M46 82L40 75M40 75L-35 107M35 58L-47 19M35 58L40 75M71 298L44 258M71 298L55 325M44 258L25 303M25 303L36 323M36 323L55 325M44 244L44 258M98 286L71 298M619 430L634 459M619 430L590 443M590 443L586 518M634 459L586 518M635 124L639 170M659 190L639 170M595 135L623 124M595 135L600 171M639 170L600 171M638 -9L616 11M638 -9L606 -64M616 11L588 -8M665 5L638 -9M614 37L616 11M587 45L582 41M588 -8L575 4M582 41L575 4M575 4L539 -4M588 78L575 91M582 41L540 46M540 46L536 87M536 87L575 91M595 135L580 129M580 129L575 91M116 5L96 47M116 5L81 -5M62 28L61 3M62 28L90 48M90 48L96 47M61 3L81 -5M134 1L116 5M53 -2L61 3M35 58L62 28M78 72L90 48M134 1L139 4M177 -5L139 4M282 106L265 123M282 106L324 125M265 123L281 160M324 125L314 157M314 157L296 167M296 167L281 160M240 183L246 184M219 153L226 138M246 184L281 160M226 138L261 123M261 123L265 123M338 119L352 127M338 119L324 125M352 127L351 161M336 169L351 161M336 169L314 157M338 193L336 169M338 193L318 208M296 167L299 190M318 208L299 190M246 184L270 208M299 190L270 208M215 226L241 245M241 245L268 232M270 208L268 232M233 437L275 445M233 437L223 446M275 445L235 536M223 446L235 536M108 291L121 324M121 324L105 337M55 325L63 333M63 333L105 337M188 282L230 282M188 282L173 309M194 333L172 314M194 333L225 322M225 322L230 282M173 309L172 314M183 259L188 282M242 272L241 245M242 272L230 282M136 273L173 309M121 324L144 328M144 328L172 314M338 193L372 198M351 161L374 174M374 174L372 198M275 445L285 441M304 455L285 441M619 430L631 402M590 443L569 423M569 423L569 420M569 420L584 398M584 398L631 402M652 339L629 336M652 339L671 302M629 336L622 324M671 302L650 287M650 287L634 295M622 324L634 295M540 46L525 30M539 -4L535 -1M525 30L535 -1M419 16L378 15M370 -9L378 15M264 61L283 96M264 61L291 42M291 42L308 43M308 43L312 77M283 96L312 77M280 11L319 -9M280 11L263 4M263 4L298 -105M319 -9L298 -105M323 -4L329 31M323 -4L319 -9M329 31L308 43M291 42L280 11M370 -9L323 -4M96 47L112 57M139 4L144 32M144 32L112 57M103 97L119 78M119 78L112 57M149 120L152 82M119 78L152 82M177 -5L189 5M189 5L230 -10M263 4L247 10M247 10L230 -10M318 208L320 231M268 232L300 244M320 231L300 244M372 198L377 206M377 206L350 245M320 231L350 245M68 450L103 446M65 357L83 386M65 357L29 381M83 386L53 414M29 381L40 406M40 406L53 414M63 333L65 357M105 337L106 364M106 364L88 386M88 386L83 386M59 444L53 414M114 408L88 386M114 408L117 432M117 432L103 446M163 394L172 380M163 394L136 389M172 380L146 351M136 389L129 372M146 351L129 372M144 328L146 351M194 333L197 366M197 366L172 380M114 408L136 389M106 364L129 372M211 443L166 455M211 443L194 416M194 416L166 410M166 410L155 436M155 436L166 455M223 446L211 443M233 437L235 420M235 420L214 390M214 390L194 416M197 366L212 377M212 377L214 390M163 394L166 410M117 432L155 436M427 250L433 274M427 250L407 246M407 246L395 260M433 274L405 297M395 260L396 287M396 287L405 297M455 238L427 250M455 238L455 223M455 223L425 196M425 196L402 212M402 212L407 246M402 212L377 206M350 245L351 246M351 246L395 260M412 313L438 321M412 313L405 297M450 281L438 321M450 281L433 274M536 87L525 95M525 95L488 70M525 30L490 38M490 38L486 43M486 43L488 70M235 420L273 390M285 441L287 400M273 390L287 400M304 455L334 448M287 400L317 395M317 395L320 397M334 448L320 397M325 348L373 362M325 348L323 350M373 362L355 394M323 350L317 395M320 397L355 394M338 450L368 424M399 468L368 424M338 450L334 448M355 394L370 421M368 424L370 421M412 313L383 343M445 326L438 321M445 326L432 367M383 343L381 358M381 358L399 371M432 367L399 371M373 362L381 358M370 421L403 411M399 371L403 411M569 423L539 452M539 452L576 548M671 457L634 459M633 401L633 394M633 401L662 415M633 394L669 358M662 415L760 367M584 398L573 365M618 362L633 394M618 362L576 358M576 358L573 365M631 402L633 401M671 457L662 415M652 339L669 358M629 336L618 362M671 302L1047 319M643 250L652 261M643 250L652 205M652 261L734 240M660 197L652 205M650 287L652 261M659 190L660 197M455 238L478 264M450 281L478 266M478 264L478 266M580 129L545 145M525 95L522 111M522 111L545 145M600 171L598 173M605 212L597 203M605 212L652 205M598 173L597 203M484 17L448 -12M490 38L484 17M535 -1L501 -20M430 32L426 19M430 32L442 40M426 19L448 -12M486 43L442 40M426 19L419 16M264 61L261 60M247 10L243 22M261 60L243 22M189 5L200 40M243 22L200 40M386 86L397 78M386 86L343 84M397 66L364 38M397 66L397 78M364 38L349 41M349 41L342 84M342 84L343 84M338 119L343 84M352 127L378 127M378 127L386 86M430 32L397 66M378 15L364 38M329 31L349 41M312 77L342 84M282 106L283 96M304 311L290 286M304 311L327 324M327 324L348 304M296 279L344 285M296 279L290 286M344 285L350 296M350 296L348 304M325 348L327 324M383 343L348 304M300 244L296 279M351 246L344 285M242 272L271 290M271 290L290 286M396 287L350 296M285 335L261 327M285 335L295 349M295 349L271 384M251 334L261 327M251 334L250 366M250 366L271 384M271 290L261 327M304 311L285 335M323 350L295 349M273 390L271 384M225 322L251 334M212 377L250 366M432 367L443 379M403 411L413 418M443 379L445 405M445 405L413 418M399 468L415 438M415 438L413 418M634 295L603 278M643 250L604 250M603 278L604 250M605 212L600 245M604 250L600 245M488 70L465 91M522 111L481 130M481 130L462 122M462 122L465 91M442 40L444 77M397 78L415 90M415 90L444 77M444 77L465 91M389 159L428 185M389 159L391 137M391 137L428 127M428 185L438 172M438 172L439 131M428 127L439 131M425 196L428 185M374 174L389 159M378 127L391 137M415 90L428 127M455 223L480 205M480 205L478 179M478 179L438 172M478 179L492 165M481 130L492 165M462 122L439 131M529 185L528 172M529 185L556 213M528 172L542 157M556 213L568 206M568 206L566 172M542 157L566 172M480 205L505 217M505 217L529 185M492 165L528 172M545 145L542 157M598 173L566 172M597 203L568 206M199 43L232 73M199 43L171 63M170 68L171 63M170 68L199 102M199 102L203 103M203 103L229 81M229 81L232 73M261 60L232 73M200 40L199 43M144 32L171 63M152 82L170 68M168 130L199 102M226 138L203 103M261 123L229 81M513 439L464 540M513 439L512 437M512 437L461 445M458 451L461 445M539 452L513 439M415 438L458 451M445 405L460 415M460 415L461 445M496 385L526 364M496 385L497 400M497 400L510 414M510 414L541 403M541 403L546 375M546 375L526 364M443 379L482 367M482 367L496 385M460 415L497 400M512 437L510 414M569 420L541 403M573 365L546 375M622 324L597 321M603 278L584 294M584 294L597 321M576 358L574 348M574 348L597 321M505 217L512 237M556 213L552 233M512 237L552 233M478 264L506 248M512 237L506 248M600 245L562 246M552 233L562 246M584 294L551 289M562 246L551 289M543 322L546 292M543 322L523 337M523 337L480 329M545 292L546 292M545 292L489 297M489 297L479 328M479 328L480 329M574 348L543 322M551 289L546 292M526 364L523 337M482 367L480 329M506 248L545 292M478 266L489 297M445 326L479 328" fill="none" stroke="#eedede" stroke-width="2.69" stroke-opacity="0.45"/></g></g><g transform="translate(445,335) scale(0.21168)"><clipPath id="c5"><path d="M62,290C61.7,276.7 64.2,256.7 68,240C71.8,223.3 77.2,205 85,190C92.8,175 103.3,162.5 115,150C126.7,137.5 140,125.8 155,115C170,104.2 187.5,93.8 205,85C222.5,76.2 240.8,68.7 260,62C279.2,55.3 300,49.5 320,45C340,40.5 360,37.2 380,35C400,32.8 421.7,31.5 440,32C458.3,32.5 475,34.2 490,38C505,41.8 517.5,47.2 530,55C542.5,62.8 554.2,72.5 565,85C575.8,97.5 585,114.2 595,130C605,145.8 615.8,164.2 625,180C634.2,195.8 643.8,210.8 650,225C656.2,239.2 660.7,252.5 662,265C663.3,277.5 662.5,290 658,300C653.5,310 644.7,318.3 635,325C625.3,331.7 612.5,335 600,340C587.5,345 573.3,350.8 560,355C546.7,359.2 533.3,361.7 520,365C506.7,368.3 493.3,370.8 480,375C466.7,379.2 452.5,385 440,390C427.5,395 416.7,400.3 405,405C393.3,409.7 382.5,415.5 370,418C357.5,420.5 342.5,421 330,420C317.5,419 305,416.2 295,412C285,407.8 278.3,400.3 270,395C261.7,389.7 254.2,383.8 245,380C235.8,376.2 227.5,374 215,372C202.5,370 184.2,369.7 170,368C155.8,366.3 142.5,365.8 130,362C117.5,358.2 105,352 95,345C85,338 75.5,329.2 70,320C64.5,310.8 62.3,303.3 62,290Z"/></clipPath><path d="M62,290C61.7,276.7 64.2,256.7 68,240C71.8,223.3 77.2,205 85,190C92.8,175 103.3,162.5 115,150C126.7,137.5 140,125.8 155,115C170,104.2 187.5,93.8 205,85C222.5,76.2 240.8,68.7 260,62C279.2,55.3 300,49.5 320,45C340,40.5 360,37.2 380,35C400,32.8 421.7,31.5 440,32C458.3,32.5 475,34.2 490,38C505,41.8 517.5,47.2 530,55C542.5,62.8 554.2,72.5 565,85C575.8,97.5 585,114.2 595,130C605,145.8 615.8,164.2 625,180C634.2,195.8 643.8,210.8 650,225C656.2,239.2 660.7,252.5 662,265C663.3,277.5 662.5,290 658,300C653.5,310 644.7,318.3 635,325C625.3,331.7 612.5,335 600,340C587.5,345 573.3,350.8 560,355C546.7,359.2 533.3,361.7 520,365C506.7,368.3 493.3,370.8 480,375C466.7,379.2 452.5,385 440,390C427.5,395 416.7,400.3 405,405C393.3,409.7 382.5,415.5 370,418C357.5,420.5 342.5,421 330,420C317.5,419 305,416.2 295,412C285,407.8 278.3,400.3 270,395C261.7,389.7 254.2,383.8 245,380C235.8,376.2 227.5,374 215,372C202.5,370 184.2,369.7 170,368C155.8,366.3 142.5,365.8 130,362C117.5,358.2 105,352 95,345C85,338 75.5,329.2 70,320C64.5,310.8 62.3,303.3 62,290Z" fill="#9d5c58"/><path clip-path="url(#c5)" d="M635 421L669 380M126 411L119 406M119 406L69 410M57 402L69 410M685 79L663 124M663 124L666 160M69 20L78 23M78 23L95 19M95 19L118 -206M204 63L203 11M204 63L159 68M159 68L146 61M146 61L133 30M133 30L155 -8M155 -8L202 2M202 2L203 11M95 19L133 30M271 -4L256 23M256 23L203 11M78 23L76 79M146 61L97 93M76 79L97 93M76 79L31 83M652 235L649 252M649 252L688 297M669 380L651 367M651 367L649 319M688 297L649 319M620 215L588 221M620 215L629 166M602 152L629 166M602 152L566 196M566 196L588 221M652 235L620 215M666 160L629 166M649 252L623 273M588 221L580 258M580 258L623 273M649 319L624 306M624 306L623 273M563 196L527 234M563 196L566 196M580 258L564 271M564 271L539 261M527 234L539 261M256 23L246 48M204 63L206 64M206 64L246 48M271 -4L297 12M302 64L297 12M302 64L287 74M246 48L287 74M258 244L218 278M258 244L249 224M249 224L209 211M193 223L209 211M193 223L195 265M195 265L218 278M235 316L263 371M235 316L282 300M290 304L282 300M290 304L301 341M301 341L263 371M258 244L273 253M273 253L282 300M229 315L218 278M229 315L235 316M159 68L159 125M97 93L95 123M95 123L146 143M159 125L146 143M146 230L111 196M146 230L173 219M173 219L151 166M111 196L149 164M151 166L149 164M193 223L173 219M209 211L208 173M208 173L151 166M563 196L521 162M521 162L497 176M527 234L481 216M497 176L481 216M273 253L296 244M318 293L337 254M318 293L290 304M296 244L337 254M249 224L274 186M276 186L274 186M276 186L304 200M296 244L304 200M635 421L612 413M651 367L609 370M609 370L612 413M564 271L565 299M624 306L584 328M565 299L584 328M609 370L588 360M588 360L581 348M584 328L581 348M565 299L526 312M581 348L529 352M526 312L529 352M31 83L33 119M47 269L44 301M57 402L53 370M126 411L161 396M119 406L120 367M163 372L161 396M163 372L128 360M128 360L120 367M53 370L78 349M120 367L78 349M44 301L84 328M78 349L84 328M161 396L198 410M201 425L198 410M163 372L189 339M189 339L191 339M191 339L211 381M198 410L211 381M229 315L191 339M263 371L262 378M211 381L262 378M251 156L272 115M251 156L218 159M218 159L205 131M205 131L220 94M220 94L272 115M276 186L308 151M274 186L251 156M302 127L276 113M302 127L308 151M276 113L272 115M208 173L218 159M159 125L205 131M146 143L149 164M206 64L220 94M287 74L276 113M512 10L513 10M562 1L513 10M308 151L342 175M304 200L340 195M342 175L340 195M337 254L347 249M347 249L348 205M340 195L348 205M201 425L249 427M262 378L269 395M249 427L269 395M588 360L567 397M612 413L581 439M567 397L581 439M466 249L494 289M466 249L428 265M428 265L441 310M441 310L488 303M488 303L494 294M494 289L494 294M539 261L494 289M476 220L481 216M476 220L466 249M526 312L494 294M318 293L349 314M347 249L385 271M385 271L382 291M349 314L382 291M81 136L106 197M81 136L80 136M80 136L54 168M54 168L57 200M57 200L93 206M93 206L106 197M95 123L81 136M111 196L106 197M33 119L80 136M47 269L90 264M90 264L93 206M160 319L157 284M160 319L136 331M136 331L98 316M157 284L136 267M136 267L100 271M100 271L98 316M195 265L157 284M189 339L160 319M128 360L136 331M84 328L98 316M146 230L136 267M90 264L100 271M562 1L591 25M591 25L628 0M685 79L659 67M645 8L659 67M645 8L628 0M464 28L425 27M464 28L400 -142M425 27L396 -5M396 -5L390 -93M512 10L469 31M469 31L464 28M330 5L297 12M330 5L390 -93M476 220L433 197M404 261L428 265M404 261L404 204M433 197L404 204M404 261L385 271M348 205L402 202M404 204L402 202M469 31L467 63M406 65L435 80M406 65L425 27M435 80L467 63M513 10L531 57M531 57L499 92M467 63L499 92M302 127L345 112M302 64L338 68M345 112L338 68M330 5L358 51M338 68L358 51M406 65L393 66M396 -5L366 50M393 66L366 50M358 51L366 50M589 40L631 73M589 40L567 66M567 66L573 113M631 73L609 111M609 111L592 122M592 122L573 113M591 25L589 40M659 67L631 73M531 57L567 66M529 130L500 100M529 130L573 113M500 100L499 92M663 124L609 111M602 152L592 122M521 162L529 130M342 175L358 155M402 202L397 177M397 177L358 155M345 112L366 128M393 66L383 123M383 123L366 128M358 155L366 128M433 108L462 124M433 108L407 130M407 130L414 144M414 144L438 160M462 124L462 151M462 151L438 160M435 80L433 108M500 100L462 124M383 123L407 130M397 177L414 144M433 197L438 160M497 176L462 151M301 341L319 349M349 314L345 340M319 349L345 340M529 352L505 370M488 303L484 362M484 362L505 370M567 397L517 399M505 370L517 399M581 439L544 613M517 399L516 406M382 291L410 342M345 340L378 363M378 363L410 342M441 310L423 344M423 344L410 342M484 362L451 369M423 344L451 369M314 413L325 403M325 403L370 396M379 407L370 396M249 427L315 603M269 395L314 413M319 349L325 403M378 363L370 396M464 422L444 393M464 422L518 1137M422 409L444 393M516 406L464 422M451 369L444 393M379 407L422 409" fill="none" stroke="#c8c8c8" stroke-width="2.60" stroke-opacity="0.8"/><g clip-path="url(#c5)" stroke="#e6d6d6" stroke-width="2.36" stroke-linejoin="round"><path d="M165,260 195,235 240,215 300,195 360,185 420,190 455,200 468,230 462,280 460,320 440,345 410,370 385,395 360,415 320,420 290,410 270,390 240,375 200,355 170,320 160,290Z" fill="#d7d7d7"/><path d="M130,130 160,110 200,95 215,100 195,130 175,160 150,170 135,160Z" fill="#d7d7d7"/><path d="M120,195 150,180 175,205 170,240 135,235Z" fill="#d7d7d7"/><path d="M480,40 530,60 560,95 555,115 520,110 495,100 485,75Z" fill="#d7d7d7"/><path d="M555,120 580,115 590,150 585,195 560,200 552,160Z" fill="#d7d7d7"/><path d="M330,160 400,145 460,120 500,105 540,112 555,140 552,190 530,205 480,220 455,205 420,190 370,180 330,175Z" fill="#aa6f6b"/><path d="M462,235 500,215 540,205 560,220 530,255 490,290 465,295Z" fill="#8e4643"/><path d="M90,250 120,235 160,250 168,300 195,335 170,355 130,350 100,320Z" fill="#aa6f6b"/><path d="M160,180 190,150 210,110 250,80 300,60 345,42 400,35 470,40 480,70 488,100 460,120 400,140 350,150 320,155 300,165 275,185 245,205 210,220 175,215Z" fill="#7b292b"/></g><g clip-path="url(#c5)"><path d="M635 421L669 380M126 411L119 406M119 406L69 410M57 402L69 410M685 79L663 124M663 124L666 160M69 20L78 23M78 23L95 19M95 19L118 -206M204 63L203 11M204 63L159 68M159 68L146 61M146 61L133 30M133 30L155 -8M155 -8L202 2M202 2L203 11M95 19L133 30M271 -4L256 23M256 23L203 11M78 23L76 79M146 61L97 93M76 79L97 93M76 79L31 83M652 235L649 252M649 252L688 297M669 380L651 367M651 367L649 319M688 297L649 319M620 215L588 221M620 215L629 166M602 152L629 166M602 152L566 196M566 196L588 221M652 235L620 215M666 160L629 166M649 252L623 273M588 221L580 258M580 258L623 273M649 319L624 306M624 306L623 273M563 196L527 234M563 196L566 196M580 258L564 271M564 271L539 261M527 234L539 261M256 23L246 48M204 63L206 64M206 64L246 48M271 -4L297 12M302 64L297 12M302 64L287 74M246 48L287 74M258 244L218 278M258 244L249 224M249 224L209 211M193 223L209 211M193 223L195 265M195 265L218 278M235 316L263 371M235 316L282 300M290 304L282 300M290 304L301 341M301 341L263 371M258 244L273 253M273 253L282 300M229 315L218 278M229 315L235 316M159 68L159 125M97 93L95 123M95 123L146 143M159 125L146 143M146 230L111 196M146 230L173 219M173 219L151 166M111 196L149 164M151 166L149 164M193 223L173 219M209 211L208 173M208 173L151 166M563 196L521 162M521 162L497 176M527 234L481 216M497 176L481 216M273 253L296 244M318 293L337 254M318 293L290 304M296 244L337 254M249 224L274 186M276 186L274 186M276 186L304 200M296 244L304 200M635 421L612 413M651 367L609 370M609 370L612 413M564 271L565 299M624 306L584 328M565 299L584 328M609 370L588 360M588 360L581 348M584 328L581 348M565 299L526 312M581 348L529 352M526 312L529 352M31 83L33 119M47 269L44 301M57 402L53 370M126 411L161 396M119 406L120 367M163 372L161 396M163 372L128 360M128 360L120 367M53 370L78 349M120 367L78 349M44 301L84 328M78 349L84 328M161 396L198 410M201 425L198 410M163 372L189 339M189 339L191 339M191 339L211 381M198 410L211 381M229 315L191 339M263 371L262 378M211 381L262 378M251 156L272 115M251 156L218 159M218 159L205 131M205 131L220 94M220 94L272 115M276 186L308 151M274 186L251 156M302 127L276 113M302 127L308 151M276 113L272 115M208 173L218 159M159 125L205 131M146 143L149 164M206 64L220 94M287 74L276 113M512 10L513 10M562 1L513 10M308 151L342 175M304 200L340 195M342 175L340 195M337 254L347 249M347 249L348 205M340 195L348 205M201 425L249 427M262 378L269 395M249 427L269 395M588 360L567 397M612 413L581 439M567 397L581 439M466 249L494 289M466 249L428 265M428 265L441 310M441 310L488 303M488 303L494 294M494 289L494 294M539 261L494 289M476 220L481 216M476 220L466 249M526 312L494 294M318 293L349 314M347 249L385 271M385 271L382 291M349 314L382 291M81 136L106 197M81 136L80 136M80 136L54 168M54 168L57 200M57 200L93 206M93 206L106 197M95 123L81 136M111 196L106 197M33 119L80 136M47 269L90 264M90 264L93 206M160 319L157 284M160 319L136 331M136 331L98 316M157 284L136 267M136 267L100 271M100 271L98 316M195 265L157 284M189 339L160 319M128 360L136 331M84 328L98 316M146 230L136 267M90 264L100 271M562 1L591 25M591 25L628 0M685 79L659 67M645 8L659 67M645 8L628 0M464 28L425 27M464 28L400 -142M425 27L396 -5M396 -5L390 -93M512 10L469 31M469 31L464 28M330 5L297 12M330 5L390 -93M476 220L433 197M404 261L428 265M404 261L404 204M433 197L404 204M404 261L385 271M348 205L402 202M404 204L402 202M469 31L467 63M406 65L435 80M406 65L425 27M435 80L467 63M513 10L531 57M531 57L499 92M467 63L499 92M302 127L345 112M302 64L338 68M345 112L338 68M330 5L358 51M338 68L358 51M406 65L393 66M396 -5L366 50M393 66L366 50M358 51L366 50M589 40L631 73M589 40L567 66M567 66L573 113M631 73L609 111M609 111L592 122M592 122L573 113M591 25L589 40M659 67L631 73M531 57L567 66M529 130L500 100M529 130L573 113M500 100L499 92M663 124L609 111M602 152L592 122M521 162L529 130M342 175L358 155M402 202L397 177M397 177L358 155M345 112L366 128M393 66L383 123M383 123L366 128M358 155L366 128M433 108L462 124M433 108L407 130M407 130L414 144M414 144L438 160M462 124L462 151M462 151L438 160M435 80L433 108M500 100L462 124M383 123L407 130M397 177L414 144M433 197L438 160M497 176L462 151M301 341L319 349M349 314L345 340M319 349L345 340M529 352L505 370M488 303L484 362M484 362L505 370M567 397L517 399M505 370L517 399M581 439L544 613M517 399L516 406M382 291L410 342M345 340L378 363M378 363L410 342M441 310L423 344M423 344L410 342M484 362L451 369M423 344L451 369M314 413L325 403M325 403L370 396M379 407L370 396M249 427L315 603M269 395L314 413M319 349L325 403M378 363L370 396M464 422L444 393M464 422L518 1137M422 409L444 393M516 406L464 422M451 369L444 393M379 407L422 409" fill="none" stroke="#eedede" stroke-width="2.60" stroke-opacity="0.45"/></g><path d="M165,260 195,235 240,215 300,195 360,185 420,190 455,200 468,230 462,280 460,320 440,345 410,370 385,395 360,415 320,420 290,410 270,390 240,375 200,355 170,320 160,290Z" fill="#d7d7d7" stroke="#e6d6d6" stroke-width="2.36"/><path d="M130,130 160,110 200,95 215,100 195,130 175,160 150,170 135,160Z" fill="#d7d7d7" stroke="#e6d6d6" stroke-width="2.36"/><path d="M120,195 150,180 175,205 170,240 135,235Z" fill="#d7d7d7" stroke="#e6d6d6" stroke-width="2.36"/><path d="M480,40 530,60 560,95 555,115 520,110 495,100 485,75Z" fill="#d7d7d7" stroke="#e6d6d6" stroke-width="2.36"/><path d="M555,120 580,115 590,150 585,195 560,200 552,160Z" fill="#d7d7d7" stroke="#e6d6d6" stroke-width="2.36"/></g><g transform="translate(300,440) scale(0.20438)"><clipPath id="c6"><path d="M55,290C54.2,280 55,260 58,245C61,230 66.3,214.2 73,200C79.7,185.8 88,172.5 98,160C108,147.5 120.5,135.8 133,125C145.5,114.2 158,104.2 173,95C188,85.8 205.5,77.5 223,70C240.5,62.5 259.7,55.3 278,50C296.3,44.7 313.8,40.5 333,38C352.2,35.5 373,34.7 393,35C413,35.3 434.7,36.7 453,40C471.3,43.3 488,48.3 503,55C518,61.7 530.5,70 543,80C555.5,90 567.2,101.7 578,115C588.8,128.3 598.8,145 608,160C617.2,175 626.3,190 633,205C639.7,220 645.5,235.8 648,250C650.5,264.2 650.5,278.3 648,290C645.5,301.7 640.5,311.7 633,320C625.5,328.3 614.7,334.2 603,340C591.3,345.8 576.3,351.7 563,355C549.7,358.3 536.3,358.3 523,360C509.7,361.7 493,360.8 483,365C473,369.2 469.7,377.5 463,385C456.3,392.5 451.3,402.5 443,410C434.7,417.5 424.7,425 413,430C401.3,435 386.3,437.5 373,440C359.7,442.5 346.3,445 333,445C319.7,445 305.5,444.2 293,440C280.5,435.8 266.3,427.5 258,420C249.7,412.5 247.2,402.5 243,395C238.8,387.5 239.7,379.2 233,375C226.3,370.8 214.7,372.5 203,370C191.3,367.5 176.3,364.2 163,360C149.7,355.8 135.5,350.8 123,345C110.5,339.2 98,331.7 88,325C78,318.3 68.5,310.8 63,305C57.5,299.2 55.8,300 55,290Z"/></clipPath><path d="M55,290C54.2,280 55,260 58,245C61,230 66.3,214.2 73,200C79.7,185.8 88,172.5 98,160C108,147.5 120.5,135.8 133,125C145.5,114.2 158,104.2 173,95C188,85.8 205.5,77.5 223,70C240.5,62.5 259.7,55.3 278,50C296.3,44.7 313.8,40.5 333,38C352.2,35.5 373,34.7 393,35C413,35.3 434.7,36.7 453,40C471.3,43.3 488,48.3 503,55C518,61.7 530.5,70 543,80C555.5,90 567.2,101.7 578,115C588.8,128.3 598.8,145 608,160C617.2,175 626.3,190 633,205C639.7,220 645.5,235.8 648,250C650.5,264.2 650.5,278.3 648,290C645.5,301.7 640.5,311.7 633,320C625.5,328.3 614.7,334.2 603,340C591.3,345.8 576.3,351.7 563,355C549.7,358.3 536.3,358.3 523,360C509.7,361.7 493,360.8 483,365C473,369.2 469.7,377.5 463,385C456.3,392.5 451.3,402.5 443,410C434.7,417.5 424.7,425 413,430C401.3,435 386.3,437.5 373,440C359.7,442.5 346.3,445 333,445C319.7,445 305.5,444.2 293,440C280.5,435.8 266.3,427.5 258,420C249.7,412.5 247.2,402.5 243,395C238.8,387.5 239.7,379.2 233,375C226.3,370.8 214.7,372.5 203,370C191.3,367.5 176.3,364.2 163,360C149.7,355.8 135.5,350.8 123,345C110.5,339.2 98,331.7 88,325C78,318.3 68.5,310.8 63,305C57.5,299.2 55.8,300 55,290Z" fill="#d7d7d7"/><path clip-path="url(#c6)" d="M32 152L48 144M48 144L63 105M32 89L63 105M643 483L678 452M548 15L525 33M525 33L491 12M418 470L426 464M426 464L462 475M276 476L295 440M295 440L332 466M418 470L377 443M377 443L348 466M348 466L348 466M380 426L377 443M380 426L427 418M426 464L435 421M427 418L435 421M276 476L239 465M261 413L293 431M261 413L246 420M293 431L295 440M246 420L239 465M114 252L119 286M114 252L132 244M132 244L160 252M160 252L149 285M149 285L122 289M122 289L119 286M67 260L95 242M67 260L73 290M95 242L114 252M73 290L119 286M163 250L160 252M163 250L203 272M172 304L203 281M172 304L149 285M203 281L203 272M168 336L120 337M168 336L172 304M120 337L122 289M48 144L87 155M63 105L88 98M88 98L109 117M87 155L109 117M92 175L87 155M92 175L125 174M109 117L110 117M110 117L141 139M141 139L125 174M548 15L550 15M550 15L590 11M632 7L621 44M590 11L621 44M504 71L509 69M504 71L475 113M475 113L483 135M527 119L509 69M527 119L522 128M522 128L506 139M483 135L506 139M525 33L522 57M491 12L486 12M504 71L468 60M522 57L509 69M486 12L468 60M48 221L53 253M48 221L-24 220M53 253L-17 276M36 311L73 290M36 311L-17 276M67 260L53 253M73 290L73 290M36 311L38 319M32 152L34 176M34 176L-24 220M53 193L53 211M53 193L90 179M53 211L95 223M90 179L100 213M100 213L95 223M34 176L53 193M48 221L53 211M92 175L90 179M95 242L95 223M135 208L132 244M135 208L100 213M38 319L56 350M73 290L93 335M56 350L93 335M120 337L116 340M93 335L116 340M208 8L186 1M186 1L101 -588M34 59L56 51M34 59L-4 30M56 51L70 19M36 5L70 19M32 89L34 59M88 98L89 78M89 78L56 51M462 475L480 444M512 469L480 444M446 415L435 421M446 415L478 436M478 436L480 444M274 322L271 329M274 322L307 300M290 364L271 329M290 364L297 365M321 308L307 300M321 308L327 334M297 365L327 334M338 420L320 410M338 420L370 409M370 409L372 389M372 389L329 384M320 410L321 387M321 387L329 384M293 431L320 410M332 466L348 466M348 466L338 420M380 426L370 409M385 371L427 418M385 371L372 389M261 413L266 385M266 385L290 364M297 365L321 387M327 334L351 347M351 347L329 384M224 321L242 335M224 321L192 342M242 335L238 364M192 342L210 373M238 364L210 373M274 322L252 288M271 329L242 335M223 299L252 288M223 299L224 321M168 336L169 336M169 336L192 342M223 299L203 281M266 385L238 364M678 452L641 418M672 368L641 394M641 418L641 394M643 483L605 460M605 460L618 433M641 418L618 433M34 482L66 463M66 463L86 469M133 471L110 451M86 469L110 451M125 424L140 426M125 424L113 434M133 471L180 465M113 434L110 451M140 426L180 465M231 470L186 461M231 470L238 1420M181 465L186 461M239 465L231 470M180 465L181 465M577 44L621 45M577 44L562 79M592 96L573 97M592 96L621 46M621 46L621 45M562 79L573 97M550 15L577 44M621 44L621 45M522 57L562 79M647 57L621 46M647 57L656 99M602 105L656 99M602 105L592 96M569 102L573 97M569 102L527 119M514 165L485 191M514 165L532 181M532 181L525 208M525 208L495 212M485 191L495 212M483 135L470 145M514 165L506 139M485 191L456 176M470 145L456 176M486 12L469 6M385 371L386 365M351 347L359 347M359 347L386 365M475 113L447 94M468 60L451 62M451 62L447 94M470 145L424 126M424 126L423 109M447 94L423 109M46 375L48 374M46 375L33 415M48 374L86 388M33 415L52 427M52 427L91 418M86 388L91 418M56 350L48 374M115 369L116 340M115 369L86 388M66 463L52 427M113 434L91 418M125 424L131 388M131 388L115 369M101 22L88 11M101 22L147 15M88 11L107 -135M147 15L107 -135M109 55L101 22M109 55L89 78M70 19L88 11M160 23L186 1M160 23L147 15M196 419L175 409M196 419L209 411M209 411L209 376M209 376L162 381M175 409L161 384M161 384L162 381M140 426L175 409M186 461L196 419M246 420L209 411M210 373L209 376M169 336L162 381M131 388L161 384M252 288L265 262M307 300L298 267M265 262L298 267M110 117L140 88M141 139L171 139M171 139L170 101M170 101L140 88M109 55L139 62M160 23L163 45M163 45L139 62M139 62L140 88M641 329L609 348M641 329L672 368M641 394L615 385M609 348L615 385M618 433L590 406M590 406L599 393M615 385L599 393M544 244L546 235M544 244L570 284M570 284L572 284M572 284L606 246M606 246L605 240M546 235L578 218M605 240L578 218M631 271L657 249M631 271L631 298M642 309L631 298M642 309L769 262M606 246L631 271M638 221L630 222M638 221L657 249M605 240L630 222M597 298L572 284M597 298L631 298M641 329L642 309M597 298L589 343M589 343L609 348M424 126L419 136M447 181L456 176M447 181L423 171M423 171L419 136M409 313L387 294M409 313L389 363M359 347L370 303M389 363L386 365M387 294L370 303M321 308L339 300M339 300L370 303M315 12L284 34M284 34L260 25M255 15L260 25M208 8L215 22M255 15L215 22M546 468L567 440M592 462L567 440M512 469L516 465M516 465L546 468M605 460L592 462M590 406L558 421M558 421L567 440M298 267L306 258M339 300L347 261M306 258L347 261M387 294L387 272M387 272L355 256M347 261L355 256M170 101L178 91M163 45L172 51M172 51L178 91M215 22L214 52M172 51L214 52M659 195L651 186M659 195L1037 226M651 186L646 144M675 121L646 144M638 221L659 195M630 222L603 182M603 182L651 186M656 99L675 121M602 105L613 145M613 145L646 144M589 343L583 345M599 393L572 366M572 366L583 345M446 415L456 386M389 363L441 367M456 386L441 367M409 313L413 313M413 313L445 332M441 367L445 332M595 165L591 176M595 165L569 126M591 176L584 180M584 180L561 173M561 173L552 148M569 126L552 148M613 145L595 165M603 182L591 176M569 102L569 126M578 218L584 180M532 181L561 173M525 208L546 235M522 128L552 148M544 244L520 257M495 212L494 214M520 257L496 246M494 214L496 246M203 272L222 243M265 262L263 258M222 243L229 241M263 258L229 241M135 208L145 199M163 250L175 214M145 199L175 214M125 174L144 198M145 199L144 198M222 243L184 211M175 214L184 211M178 91L226 89M214 52L230 69M226 89L230 69M260 25L233 68M233 68L230 69M557 375L522 355M557 375L555 420M518 413L532 421M518 413L504 384M504 384L522 355M532 421L555 420M558 421L555 420M572 366L557 375M478 436L518 413M516 465L532 421M456 386L468 382M468 382L504 384M570 284L549 306M520 257L512 285M512 285L549 306M583 345L547 320M549 306L547 320M453 244L437 256M453 244L456 226M443 200L456 226M443 200L402 226M437 256L408 249M402 226L408 249M494 214L456 226M496 246L480 254M480 254L453 244M447 181L443 200M423 171L383 184M389 213L383 184M389 213L402 226M413 313L444 281M387 272L408 249M444 281L437 256M355 256L354 233M354 233L389 213M404 55L402 55M404 55L430 42M402 55L370 22M431 25L408 -8M431 25L430 42M376 11L370 22M451 62L430 42M423 109L403 97M403 97L404 55M367 66L402 55M367 66L339 47M339 39L339 47M339 39L370 22M469 6L431 25M315 12L339 39M284 34L284 62M233 68L279 69M284 62L279 69M339 47L329 63M284 62L329 63M263 258L278 208M229 241L243 203M278 208L243 203M184 211L197 190M197 190L234 187M243 203L234 187M419 136L366 143M383 184L366 171M366 171L363 147M366 143L363 147M403 97L380 104M366 143L380 104M367 66L370 94M370 94L380 104M522 348L524 341M522 348L480 343M524 341L484 299M480 343L466 321M466 321L478 300M478 300L482 299M482 299L484 299M522 355L522 348M547 320L524 341M468 382L480 343M512 285L484 299M445 332L466 321M444 281L478 300M480 254L482 299M230 144L242 113M230 144L181 147M181 147L177 144M226 90L242 113M226 90L176 143M176 143L177 144M263 163L242 166M263 163L282 133M242 166L230 144M282 133L255 115M255 115L242 113M197 190L181 147M242 166L234 187M144 198L177 144M226 89L226 90M279 69L284 86M255 115L284 86M171 139L176 143M305 181L344 185M305 181L296 188M296 188L291 203M291 203L310 230M310 230L339 221M339 221L344 185M278 208L291 203M263 163L296 188M306 258L310 230M354 233L339 221M366 171L344 185M307 103L304 131M307 103L327 87M327 87L340 95M340 95L347 138M347 138L306 134M306 134L304 131M282 133L304 131M284 86L307 103M329 63L327 87M370 94L340 95M363 147L347 138M305 181L306 134" fill="none" stroke="#c8c8c8" stroke-width="2.69" stroke-opacity="0.8"/><g clip-path="url(#c6)" stroke="#e6d6d6" stroke-width="2.45" stroke-linejoin="round"><path d="M65,225 80,190 110,160 130,150 120,180 100,205 80,230Z" fill="#9d5c58"/><path d="M160,100 200,88 225,95 232,120 205,145 170,152 150,130Z" fill="#aa6f6b"/><path d="M295,50 340,40 400,36 450,42 495,55 510,70 470,80 450,100 440,120 400,125 380,115 360,90 330,80 300,70Z" fill="#7b292b"/><path d="M265,100 290,88 310,92 300,105 275,110Z" fill="#7b292b"/><path d="M360,115 390,118 385,145 362,150Z" fill="#7b292b"/><path d="M350,150 385,140 420,150 425,190 420,215 395,220 365,205 345,195 348,170Z" fill="#7b292b"/><path d="M425,150 465,135 475,170 475,230 455,235 435,215Z" fill="#7b292b"/><path d="M475,135 530,135 570,165 595,200 610,240 590,250 560,245 530,245 500,240 478,230 476,180Z" fill="#aa6f6b"/><path d="M540,250 575,245 610,255 640,270 650,300 640,330 610,345 580,350 555,335 540,300Z" fill="#9d5c58"/><path d="M550,345 590,330 620,340 605,355 570,365Z" fill="#aa6f6b"/><path d="M190,235 230,225 270,222 310,220 318,232 300,250 280,262 300,280 330,290 325,320 300,335 280,350 270,380 250,385 225,350 195,335 165,330 155,305 170,285 205,270 200,250Z" fill="#7b292b"/><path d="M300,370 320,345 350,335 380,350 395,385 410,405 380,410 345,415 315,408 300,390Z" fill="#aa6f6b"/><path d="M385,360 420,355 445,375 420,390 395,390Z" fill="#aa6f6b"/></g><clipPath id="c6k"><path d="M65,225 80,190 110,160 130,150 120,180 100,205 80,230Z"/><path d="M160,100 200,88 225,95 232,120 205,145 170,152 150,130Z"/><path d="M295,50 340,40 400,36 450,42 495,55 510,70 470,80 450,100 440,120 400,125 380,115 360,90 330,80 300,70Z"/><path d="M265,100 290,88 310,92 300,105 275,110Z"/><path d="M360,115 390,118 385,145 362,150Z"/><path d="M350,150 385,140 420,150 425,190 420,215 395,220 365,205 345,195 348,170Z"/><path d="M425,150 465,135 475,170 475,230 455,235 435,215Z"/><path d="M475,135 530,135 570,165 595,200 610,240 590,250 560,245 530,245 500,240 478,230 476,180Z"/><path d="M540,250 575,245 610,255 640,270 650,300 640,330 610,345 580,350 555,335 540,300Z"/><path d="M550,345 590,330 620,340 605,355 570,365Z"/><path d="M190,235 230,225 270,222 310,220 318,232 300,250 280,262 300,280 330,290 325,320 300,335 280,350 270,380 250,385 225,350 195,335 165,330 155,305 170,285 205,270 200,250Z"/><path d="M300,370 320,345 350,335 380,350 395,385 410,405 380,410 345,415 315,408 300,390Z"/><path d="M385,360 420,355 445,375 420,390 395,390Z"/></clipPath><g clip-path="url(#c6k)"><path d="M32 152L48 144M48 144L63 105M32 89L63 105M643 483L678 452M548 15L525 33M525 33L491 12M418 470L426 464M426 464L462 475M276 476L295 440M295 440L332 466M418 470L377 443M377 443L348 466M348 466L348 466M380 426L377 443M380 426L427 418M426 464L435 421M427 418L435 421M276 476L239 465M261 413L293 431M261 413L246 420M293 431L295 440M246 420L239 465M114 252L119 286M114 252L132 244M132 244L160 252M160 252L149 285M149 285L122 289M122 289L119 286M67 260L95 242M67 260L73 290M95 242L114 252M73 290L119 286M163 250L160 252M163 250L203 272M172 304L203 281M172 304L149 285M203 281L203 272M168 336L120 337M168 336L172 304M120 337L122 289M48 144L87 155M63 105L88 98M88 98L109 117M87 155L109 117M92 175L87 155M92 175L125 174M109 117L110 117M110 117L141 139M141 139L125 174M548 15L550 15M550 15L590 11M632 7L621 44M590 11L621 44M504 71L509 69M504 71L475 113M475 113L483 135M527 119L509 69M527 119L522 128M522 128L506 139M483 135L506 139M525 33L522 57M491 12L486 12M504 71L468 60M522 57L509 69M486 12L468 60M48 221L53 253M48 221L-24 220M53 253L-17 276M36 311L73 290M36 311L-17 276M67 260L53 253M73 290L73 290M36 311L38 319M32 152L34 176M34 176L-24 220M53 193L53 211M53 193L90 179M53 211L95 223M90 179L100 213M100 213L95 223M34 176L53 193M48 221L53 211M92 175L90 179M95 242L95 223M135 208L132 244M135 208L100 213M38 319L56 350M73 290L93 335M56 350L93 335M120 337L116 340M93 335L116 340M208 8L186 1M186 1L101 -588M34 59L56 51M34 59L-4 30M56 51L70 19M36 5L70 19M32 89L34 59M88 98L89 78M89 78L56 51M462 475L480 444M512 469L480 444M446 415L435 421M446 415L478 436M478 436L480 444M274 322L271 329M274 322L307 300M290 364L271 329M290 364L297 365M321 308L307 300M321 308L327 334M297 365L327 334M338 420L320 410M338 420L370 409M370 409L372 389M372 389L329 384M320 410L321 387M321 387L329 384M293 431L320 410M332 466L348 466M348 466L338 420M380 426L370 409M385 371L427 418M385 371L372 389M261 413L266 385M266 385L290 364M297 365L321 387M327 334L351 347M351 347L329 384M224 321L242 335M224 321L192 342M242 335L238 364M192 342L210 373M238 364L210 373M274 322L252 288M271 329L242 335M223 299L252 288M223 299L224 321M168 336L169 336M169 336L192 342M223 299L203 281M266 385L238 364M678 452L641 418M672 368L641 394M641 418L641 394M643 483L605 460M605 460L618 433M641 418L618 433M34 482L66 463M66 463L86 469M133 471L110 451M86 469L110 451M125 424L140 426M125 424L113 434M133 471L180 465M113 434L110 451M140 426L180 465M231 470L186 461M231 470L238 1420M181 465L186 461M239 465L231 470M180 465L181 465M577 44L621 45M577 44L562 79M592 96L573 97M592 96L621 46M621 46L621 45M562 79L573 97M550 15L577 44M621 44L621 45M522 57L562 79M647 57L621 46M647 57L656 99M602 105L656 99M602 105L592 96M569 102L573 97M569 102L527 119M514 165L485 191M514 165L532 181M532 181L525 208M525 208L495 212M485 191L495 212M483 135L470 145M514 165L506 139M485 191L456 176M470 145L456 176M486 12L469 6M385 371L386 365M351 347L359 347M359 347L386 365M475 113L447 94M468 60L451 62M451 62L447 94M470 145L424 126M424 126L423 109M447 94L423 109M46 375L48 374M46 375L33 415M48 374L86 388M33 415L52 427M52 427L91 418M86 388L91 418M56 350L48 374M115 369L116 340M115 369L86 388M66 463L52 427M113 434L91 418M125 424L131 388M131 388L115 369M101 22L88 11M101 22L147 15M88 11L107 -135M147 15L107 -135M109 55L101 22M109 55L89 78M70 19L88 11M160 23L186 1M160 23L147 15M196 419L175 409M196 419L209 411M209 411L209 376M209 376L162 381M175 409L161 384M161 384L162 381M140 426L175 409M186 461L196 419M246 420L209 411M210 373L209 376M169 336L162 381M131 388L161 384M252 288L265 262M307 300L298 267M265 262L298 267M110 117L140 88M141 139L171 139M171 139L170 101M170 101L140 88M109 55L139 62M160 23L163 45M163 45L139 62M139 62L140 88M641 329L609 348M641 329L672 368M641 394L615 385M609 348L615 385M618 433L590 406M590 406L599 393M615 385L599 393M544 244L546 235M544 244L570 284M570 284L572 284M572 284L606 246M606 246L605 240M546 235L578 218M605 240L578 218M631 271L657 249M631 271L631 298M642 309L631 298M642 309L769 262M606 246L631 271M638 221L630 222M638 221L657 249M605 240L630 222M597 298L572 284M597 298L631 298M641 329L642 309M597 298L589 343M589 343L609 348M424 126L419 136M447 181L456 176M447 181L423 171M423 171L419 136M409 313L387 294M409 313L389 363M359 347L370 303M389 363L386 365M387 294L370 303M321 308L339 300M339 300L370 303M315 12L284 34M284 34L260 25M255 15L260 25M208 8L215 22M255 15L215 22M546 468L567 440M592 462L567 440M512 469L516 465M516 465L546 468M605 460L592 462M590 406L558 421M558 421L567 440M298 267L306 258M339 300L347 261M306 258L347 261M387 294L387 272M387 272L355 256M347 261L355 256M170 101L178 91M163 45L172 51M172 51L178 91M215 22L214 52M172 51L214 52M659 195L651 186M659 195L1037 226M651 186L646 144M675 121L646 144M638 221L659 195M630 222L603 182M603 182L651 186M656 99L675 121M602 105L613 145M613 145L646 144M589 343L583 345M599 393L572 366M572 366L583 345M446 415L456 386M389 363L441 367M456 386L441 367M409 313L413 313M413 313L445 332M441 367L445 332M595 165L591 176M595 165L569 126M591 176L584 180M584 180L561 173M561 173L552 148M569 126L552 148M613 145L595 165M603 182L591 176M569 102L569 126M578 218L584 180M532 181L561 173M525 208L546 235M522 128L552 148M544 244L520 257M495 212L494 214M520 257L496 246M494 214L496 246M203 272L222 243M265 262L263 258M222 243L229 241M263 258L229 241M135 208L145 199M163 250L175 214M145 199L175 214M125 174L144 198M145 199L144 198M222 243L184 211M175 214L184 211M178 91L226 89M214 52L230 69M226 89L230 69M260 25L233 68M233 68L230 69M557 375L522 355M557 375L555 420M518 413L532 421M518 413L504 384M504 384L522 355M532 421L555 420M558 421L555 420M572 366L557 375M478 436L518 413M516 465L532 421M456 386L468 382M468 382L504 384M570 284L549 306M520 257L512 285M512 285L549 306M583 345L547 320M549 306L547 320M453 244L437 256M453 244L456 226M443 200L456 226M443 200L402 226M437 256L408 249M402 226L408 249M494 214L456 226M496 246L480 254M480 254L453 244M447 181L443 200M423 171L383 184M389 213L383 184M389 213L402 226M413 313L444 281M387 272L408 249M444 281L437 256M355 256L354 233M354 233L389 213M404 55L402 55M404 55L430 42M402 55L370 22M431 25L408 -8M431 25L430 42M376 11L370 22M451 62L430 42M423 109L403 97M403 97L404 55M367 66L402 55M367 66L339 47M339 39L339 47M339 39L370 22M469 6L431 25M315 12L339 39M284 34L284 62M233 68L279 69M284 62L279 69M339 47L329 63M284 62L329 63M263 258L278 208M229 241L243 203M278 208L243 203M184 211L197 190M197 190L234 187M243 203L234 187M419 136L366 143M383 184L366 171M366 171L363 147M366 143L363 147M403 97L380 104M366 143L380 104M367 66L370 94M370 94L380 104M522 348L524 341M522 348L480 343M524 341L484 299M480 343L466 321M466 321L478 300M478 300L482 299M482 299L484 299M522 355L522 348M547 320L524 341M468 382L480 343M512 285L484 299M445 332L466 321M444 281L478 300M480 254L482 299M230 144L242 113M230 144L181 147M181 147L177 144M226 90L242 113M226 90L176 143M176 143L177 144M263 163L242 166M263 163L282 133M242 166L230 144M282 133L255 115M255 115L242 113M197 190L181 147M242 166L234 187M144 198L177 144M226 89L226 90M279 69L284 86M255 115L284 86M171 139L176 143M305 181L344 185M305 181L296 188M296 188L291 203M291 203L310 230M310 230L339 221M339 221L344 185M278 208L291 203M263 163L296 188M306 258L310 230M354 233L339 221M366 171L344 185M307 103L304 131M307 103L327 87M327 87L340 95M340 95L347 138M347 138L306 134M306 134L304 131M282 133L304 131M284 86L307 103M329 63L327 87M370 94L340 95M363 147L347 138M305 181L306 134" fill="none" stroke="#eedede" stroke-width="2.69" stroke-opacity="0.45"/></g></g><g transform="translate(445,440) scale(0.21168)"><clipPath id="c7"><path d="M60,300C59.5,287.5 60.8,266.7 65,250C69.2,233.3 76.7,215 85,200C93.3,185 104.2,173.3 115,160C125.8,146.7 137.5,131.7 150,120C162.5,108.3 175.8,99.2 190,90C204.2,80.8 220,71.7 235,65C250,58.3 264.2,53.3 280,50C295.8,46.7 313.3,45.3 330,45C346.7,44.7 363.3,45.5 380,48C396.7,50.5 413.3,54.7 430,60C446.7,65.3 463.3,72.5 480,80C496.7,87.5 514.2,95 530,105C545.8,115 561.7,127.5 575,140C588.3,152.5 599.2,165.8 610,180C620.8,194.2 632,210 640,225C648,240 654.7,255.8 658,270C661.3,284.2 661.3,297.5 660,310C658.7,322.5 656.7,335 650,345C643.3,355 631.7,363.3 620,370C608.3,376.7 593.3,382.5 580,385C566.7,387.5 553.3,385 540,385C526.7,385 511.7,383.3 500,385C488.3,386.7 478.3,390 470,395C461.7,400 458.3,410 450,415C441.7,420 431.7,424.2 420,425C408.3,425.8 393.3,423.3 380,420C366.7,416.7 351.7,409.2 340,405C328.3,400.8 321.7,398.3 310,395C298.3,391.7 283.3,388.3 270,385C256.7,381.7 245,378.3 230,375C215,371.7 196.7,368.3 180,365C163.3,361.7 145,359.2 130,355C115,350.8 100.3,345 90,340C79.7,335 73,331.7 68,325C63,318.3 60.5,312.5 60,300Z"/></clipPath><path d="M60,300C59.5,287.5 60.8,266.7 65,250C69.2,233.3 76.7,215 85,200C93.3,185 104.2,173.3 115,160C125.8,146.7 137.5,131.7 150,120C162.5,108.3 175.8,99.2 190,90C204.2,80.8 220,71.7 235,65C250,58.3 264.2,53.3 280,50C295.8,46.7 313.3,45.3 330,45C346.7,44.7 363.3,45.5 380,48C396.7,50.5 413.3,54.7 430,60C446.7,65.3 463.3,72.5 480,80C496.7,87.5 514.2,95 530,105C545.8,115 561.7,127.5 575,140C588.3,152.5 599.2,165.8 610,180C620.8,194.2 632,210 640,225C648,240 654.7,255.8 658,270C661.3,284.2 661.3,297.5 660,310C658.7,322.5 656.7,335 650,345C643.3,355 631.7,363.3 620,370C608.3,376.7 593.3,382.5 580,385C566.7,387.5 553.3,385 540,385C526.7,385 511.7,383.3 500,385C488.3,386.7 478.3,390 470,395C461.7,400 458.3,410 450,415C441.7,420 431.7,424.2 420,425C408.3,425.8 393.3,423.3 380,420C366.7,416.7 351.7,409.2 340,405C328.3,400.8 321.7,398.3 310,395C298.3,391.7 283.3,388.3 270,385C256.7,381.7 245,378.3 230,375C215,371.7 196.7,368.3 180,365C163.3,361.7 145,359.2 130,355C115,350.8 100.3,345 90,340C79.7,335 73,331.7 68,325C63,318.3 60.5,312.5 60,300Z" fill="#9d5c58"/><path clip-path="url(#c7)" d="M29 289L73 256M34 218L72 234M73 256L72 234M31 433L75 434M41 89L50 131M50 131L21 160M34 218L25 167M21 160L25 167M72 234L96 212M25 167L73 176M96 212L73 176M50 131L84 136M73 176L84 136M29 289L49 333M31 433L33 399M142 236L151 279M142 236L107 208M73 256L102 292M107 208L96 212M102 292L151 279M415 251L392 206M415 251L375 273M392 206L359 229M375 273L359 229M205 430L161 393M205 430L159 547M161 393L130 436M75 434L96 423M96 423L130 436M642 74L630 24M41 89L65 70M67 32L72 37M72 37L65 70M96 423L84 381M33 399L75 374M84 381L75 374M49 333L67 338M75 374L67 338M102 292L95 317M67 338L95 317M205 430L231 423M231 423L247 436M247 436L287 406M316 424L287 406M373 425L339 414M316 424L339 414M241 365L236 370M241 365L281 389M236 370L231 423M281 389L287 406M339 414L334 367M281 389L317 357M317 357L334 367M162 385L175 377M162 385L140 365M175 377L187 332M140 365L137 352M137 352L157 317M157 317L187 332M161 393L162 385M236 370L175 377M84 381L140 365M241 365L244 352M244 352L217 314M217 314L187 332M95 317L137 352M151 279L153 280M153 280L157 317M184 276L153 280M184 276L216 288M217 314L216 288M574 31L588 34M574 31L524 -31M588 34L614 18M614 18L373 -3768M590 66L588 34M590 66L629 86M629 86L642 74M630 24L614 18M321 16L359 27M571 129L576 158M571 129L626 121M576 158L632 183M626 121L644 132M644 132L636 181M636 181L632 183M629 86L626 121M564 114L529 56M564 114L564 122M564 122L536 127M536 127L501 109M529 56L522 55M522 55L499 97M501 109L499 97M590 66L564 114M574 31L529 56M571 129L564 122M558 212L576 158M558 212L506 177M506 177L536 127M471 126L477 180M471 126L501 109M480 182L477 180M480 182L506 177M510 43L524 -31M510 43L522 55M107 208L135 167M84 136L99 131M135 167L135 145M135 145L99 131M65 70L92 93M99 131L92 93M659 431L820 390M490 284L493 238M490 284L444 283M444 283L427 255M487 231L443 237M487 231L493 238M427 255L443 237M487 336L499 292M487 336L428 332M499 292L490 284M428 332L420 323M420 323L444 283M445 185L443 237M445 185L477 180M480 182L487 231M415 251L427 255M392 206L394 197M445 185L433 182M433 182L394 197M632 183L605 224M605 224L652 242M652 242L642 278M451 387L475 428M451 387L437 381M437 381L396 399M475 428L418 441M418 441L385 420M385 420L396 399M480 431L475 428M480 431L494 426M492 350L513 363M492 350L451 387M513 363L494 426M492 350L487 336M428 332L437 381M373 425L385 420M373 348L334 367M373 348L396 399M375 273L375 274M420 323L388 323M375 274L388 323M373 348L382 327M388 323L382 327M510 43L486 43M499 97L466 67M486 43L466 67M471 126L446 115M433 182L419 126M446 115L419 126M466 67L449 71M446 115L449 71M420 45L420 50M449 71L420 50M154 128L135 145M154 128L148 85M92 93L138 73M148 85L138 73M183 129L154 128M183 129L220 100M220 100L222 84M222 84L195 63M148 85L195 63M135 167L167 190M183 129L218 178M218 178L167 190M184 276L191 227M216 288L235 274M235 274L234 221M234 221L226 212M226 212L191 227M142 236L171 219M191 227L171 219M171 219L167 190M506 427L546 405M506 427L578 487M546 405L582 442M555 368L546 405M555 368L531 361M531 361L513 363M494 426L506 427M659 431L613 396M613 396L582 442M635 335L627 369M613 396L611 385M555 368L569 362M569 362L611 385M611 385L627 369M558 212L560 218M605 224L586 231M586 231L560 218M493 238L555 222M560 218L555 222M332 311L316 279M332 311L314 350M278 331L287 281M278 331L314 350M287 281L304 271M304 271L316 279M375 274L316 279M382 327L332 311M317 357L314 350M244 352L278 331M235 274L287 281M234 221L279 221M279 221L306 254M306 254L304 271M359 229L334 227M306 254L334 227M419 126L401 120M420 50L386 75M401 120L386 75M359 27L367 70M367 70L386 75M220 100L257 135M218 178L222 181M257 135L222 181M226 212L223 181M222 181L223 181M279 221L290 184M223 181L290 184M133 53L149 34M133 53L88 34M149 34L145 -49M88 34L145 -49M138 73L133 53M195 63L190 38M190 38L149 34M72 37L88 34M499 292L499 292M555 222L538 265M538 265L499 292M531 361L528 307M528 307L499 292M222 84L239 72M257 135L287 133M239 72L296 68M287 133L296 68M321 16L298 38M367 70L345 78M298 38L297 66M345 78L297 66M282 25L236 21M282 25L196 -402M236 21L213 -2M298 38L282 25M239 72L236 21M297 66L296 68M190 38L213 -2M568 291L562 310M568 291L593 266M593 266L621 287M574 329L618 313M574 329L562 310M621 287L618 313M538 265L568 291M528 307L562 310M586 231L593 266M642 278L621 287M635 335L618 313M569 362L574 329M304 169L291 137M304 169L327 177M291 137L343 119M327 177L365 165M343 119L370 145M365 165L370 145M290 184L304 169M287 133L291 137M334 227L327 177M345 78L343 119M394 197L365 165M401 120L370 145" fill="none" stroke="#c8c8c8" stroke-width="2.60" stroke-opacity="0.8"/><g clip-path="url(#c7)" stroke="#e6d6d6" stroke-width="2.36" stroke-linejoin="round"><path d="M250,240 290,220 340,205 400,195 450,200 510,215 545,240 560,270 555,300 540,330 510,350 480,370 465,395 440,415 400,425 365,415 330,400 295,390 270,375 255,345 250,300Z" fill="#d7d7d7"/><path d="M165,115 190,90 230,75 240,100 215,120 185,125Z" fill="#d7d7d7"/><path d="M135,145 165,125 180,150 170,200 160,230 140,220Z" fill="#d7d7d7"/><path d="M445,80 490,95 530,115 565,145 575,175 555,180 530,150 490,125 455,105Z" fill="#d7d7d7"/><path d="M565,215 590,205 605,230 595,255 570,255Z" fill="#d7d7d7"/><path d="M160,130 200,125 240,120 275,150 320,160 360,165 390,175 370,185 330,185 290,200 270,215 250,240 235,260 215,250 185,230 165,200Z" fill="#aa6f6b"/><path d="M150,230 200,225 245,240 250,300 210,300 160,270Z" fill="#8e4643"/><path d="M568,265 610,250 645,262 660,310 648,345 610,360 575,350 565,310Z" fill="#aa6f6b"/><path d="M235,70 280,52 340,50 400,58 440,75 450,100 490,125 530,150 560,180 565,215 540,230 510,230 480,220 440,200 400,180 360,165 320,160 275,150 245,120 235,95Z" fill="#7b292b"/></g><g clip-path="url(#c7)"><path d="M29 289L73 256M34 218L72 234M73 256L72 234M31 433L75 434M41 89L50 131M50 131L21 160M34 218L25 167M21 160L25 167M72 234L96 212M25 167L73 176M96 212L73 176M50 131L84 136M73 176L84 136M29 289L49 333M31 433L33 399M142 236L151 279M142 236L107 208M73 256L102 292M107 208L96 212M102 292L151 279M415 251L392 206M415 251L375 273M392 206L359 229M375 273L359 229M205 430L161 393M205 430L159 547M161 393L130 436M75 434L96 423M96 423L130 436M642 74L630 24M41 89L65 70M67 32L72 37M72 37L65 70M96 423L84 381M33 399L75 374M84 381L75 374M49 333L67 338M75 374L67 338M102 292L95 317M67 338L95 317M205 430L231 423M231 423L247 436M247 436L287 406M316 424L287 406M373 425L339 414M316 424L339 414M241 365L236 370M241 365L281 389M236 370L231 423M281 389L287 406M339 414L334 367M281 389L317 357M317 357L334 367M162 385L175 377M162 385L140 365M175 377L187 332M140 365L137 352M137 352L157 317M157 317L187 332M161 393L162 385M236 370L175 377M84 381L140 365M241 365L244 352M244 352L217 314M217 314L187 332M95 317L137 352M151 279L153 280M153 280L157 317M184 276L153 280M184 276L216 288M217 314L216 288M574 31L588 34M574 31L524 -31M588 34L614 18M614 18L373 -3768M590 66L588 34M590 66L629 86M629 86L642 74M630 24L614 18M321 16L359 27M571 129L576 158M571 129L626 121M576 158L632 183M626 121L644 132M644 132L636 181M636 181L632 183M629 86L626 121M564 114L529 56M564 114L564 122M564 122L536 127M536 127L501 109M529 56L522 55M522 55L499 97M501 109L499 97M590 66L564 114M574 31L529 56M571 129L564 122M558 212L576 158M558 212L506 177M506 177L536 127M471 126L477 180M471 126L501 109M480 182L477 180M480 182L506 177M510 43L524 -31M510 43L522 55M107 208L135 167M84 136L99 131M135 167L135 145M135 145L99 131M65 70L92 93M99 131L92 93M659 431L820 390M490 284L493 238M490 284L444 283M444 283L427 255M487 231L443 237M487 231L493 238M427 255L443 237M487 336L499 292M487 336L428 332M499 292L490 284M428 332L420 323M420 323L444 283M445 185L443 237M445 185L477 180M480 182L487 231M415 251L427 255M392 206L394 197M445 185L433 182M433 182L394 197M632 183L605 224M605 224L652 242M652 242L642 278M451 387L475 428M451 387L437 381M437 381L396 399M475 428L418 441M418 441L385 420M385 420L396 399M480 431L475 428M480 431L494 426M492 350L513 363M492 350L451 387M513 363L494 426M492 350L487 336M428 332L437 381M373 425L385 420M373 348L334 367M373 348L396 399M375 273L375 274M420 323L388 323M375 274L388 323M373 348L382 327M388 323L382 327M510 43L486 43M499 97L466 67M486 43L466 67M471 126L446 115M433 182L419 126M446 115L419 126M466 67L449 71M446 115L449 71M420 45L420 50M449 71L420 50M154 128L135 145M154 128L148 85M92 93L138 73M148 85L138 73M183 129L154 128M183 129L220 100M220 100L222 84M222 84L195 63M148 85L195 63M135 167L167 190M183 129L218 178M218 178L167 190M184 276L191 227M216 288L235 274M235 274L234 221M234 221L226 212M226 212L191 227M142 236L171 219M191 227L171 219M171 219L167 190M506 427L546 405M506 427L578 487M546 405L582 442M555 368L546 405M555 368L531 361M531 361L513 363M494 426L506 427M659 431L613 396M613 396L582 442M635 335L627 369M613 396L611 385M555 368L569 362M569 362L611 385M611 385L627 369M558 212L560 218M605 224L586 231M586 231L560 218M493 238L555 222M560 218L555 222M332 311L316 279M332 311L314 350M278 331L287 281M278 331L314 350M287 281L304 271M304 271L316 279M375 274L316 279M382 327L332 311M317 357L314 350M244 352L278 331M235 274L287 281M234 221L279 221M279 221L306 254M306 254L304 271M359 229L334 227M306 254L334 227M419 126L401 120M420 50L386 75M401 120L386 75M359 27L367 70M367 70L386 75M220 100L257 135M218 178L222 181M257 135L222 181M226 212L223 181M222 181L223 181M279 221L290 184M223 181L290 184M133 53L149 34M133 53L88 34M149 34L145 -49M88 34L145 -49M138 73L133 53M195 63L190 38M190 38L149 34M72 37L88 34M499 292L499 292M555 222L538 265M538 265L499 292M531 361L528 307M528 307L499 292M222 84L239 72M257 135L287 133M239 72L296 68M287 133L296 68M321 16L298 38M367 70L345 78M298 38L297 66M345 78L297 66M282 25L236 21M282 25L196 -402M236 21L213 -2M298 38L282 25M239 72L236 21M297 66L296 68M190 38L213 -2M568 291L562 310M568 291L593 266M593 266L621 287M574 329L618 313M574 329L562 310M621 287L618 313M538 265L568 291M528 307L562 310M586 231L593 266M642 278L621 287M635 335L618 313M569 362L574 329M304 169L291 137M304 169L327 177M291 137L343 119M327 177L365 165M343 119L370 145M365 165L370 145M290 184L304 169M287 133L291 137M334 227L327 177M345 78L343 119M394 197L365 165M401 120L370 145" fill="none" stroke="#eedede" stroke-width="2.60" stroke-opacity="0.45"/></g><path d="M250,240 290,220 340,205 400,195 450,200 510,215 545,240 560,270 555,300 540,330 510,350 480,370 465,395 440,415 400,425 365,415 330,400 295,390 270,375 255,345 250,300Z" fill="#d7d7d7" stroke="#e6d6d6" stroke-width="2.36"/><path d="M165,115 190,90 230,75 240,100 215,120 185,125Z" fill="#d7d7d7" stroke="#e6d6d6" stroke-width="2.36"/><path d="M135,145 165,125 180,150 170,200 160,230 140,220Z" fill="#d7d7d7" stroke="#e6d6d6" stroke-width="2.36"/><path d="M445,80 490,95 530,115 565,145 575,175 555,180 530,150 490,125 455,105Z" fill="#d7d7d7" stroke="#e6d6d6" stroke-width="2.36"/><path d="M565,215 590,205 605,230 595,255 570,255Z" fill="#d7d7d7" stroke="#e6d6d6" stroke-width="2.36"/></g>
<defs><linearGradient id="cb" x1="0" y1="0" x2="0" y2="1"><stop offset="0" stop-color="#a86a6a"/><stop offset="1" stop-color="#6e1a1c"/></linearGradient></defs><rect x="607.3" y="381.2" width="11.3" height="126" fill="url(#cb)" stroke="#701818" stroke-width="0.9"/><line x1="607.5" x2="609.3" y1="397.8" y2="397.8" stroke="#d9b3b3" stroke-width="0.6"/><line x1="616.5" x2="618.3" y1="397.8" y2="397.8" stroke="#d9b3b3" stroke-width="0.6"/><text x="625.8" y="397.0" dominant-baseline="central" class="tick">−1.1</text><line x1="607.5" x2="609.3" y1="422.4" y2="422.4" stroke="#d9b3b3" stroke-width="0.6"/><line x1="616.5" x2="618.3" y1="422.4" y2="422.4" stroke="#d9b3b3" stroke-width="0.6"/><text x="625.8" y="421.6" dominant-baseline="central" class="tick">−1.2</text><line x1="607.5" x2="609.3" y1="446.9" y2="446.9" stroke="#d9b3b3" stroke-width="0.6"/><line x1="616.5" x2="618.3" y1="446.9" y2="446.9" stroke="#d9b3b3" stroke-width="0.6"/><text x="625.8" y="446.1" dominant-baseline="central" class="tick">−1.3</text><line x1="607.5" x2="609.3" y1="471.4" y2="471.4" stroke="#d9b3b3" stroke-width="0.6"/><line x1="616.5" x2="618.3" y1="471.4" y2="471.4" stroke="#d9b3b3" stroke-width="0.6"/><text x="625.8" y="470.6" dominant-baseline="central" class="tick">−1.4</text><line x1="607.5" x2="609.3" y1="496.0" y2="496.0" stroke="#d9b3b3" stroke-width="0.6"/><line x1="616.5" x2="618.3" y1="496.0" y2="496.0" stroke="#d9b3b3" stroke-width="0.6"/><text x="625.8" y="495.2" dominant-baseline="central" class="tick">−1.5</text><text x="606.8" y="372.6" class="loading">loading</text>
</svg>
</body></html>
